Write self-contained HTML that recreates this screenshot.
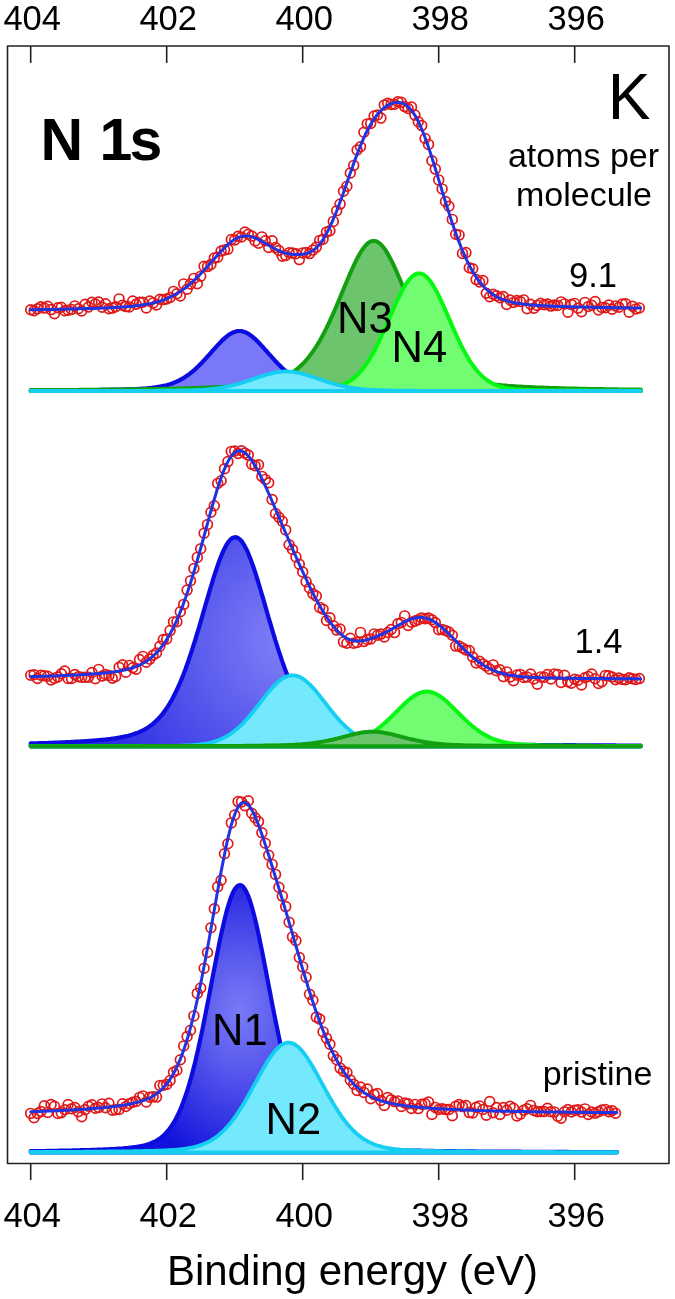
<!DOCTYPE html>
<html><head><meta charset="utf-8"><style>
html,body{margin:0;padding:0;background:#fff;}
svg{display:block;filter:blur(0.45px);}
text{font-family:"Liberation Sans",Arial,sans-serif;fill:#000;}
</style></head><body>
<svg width="675" height="1299" viewBox="0 0 675 1299">
<defs>
<radialGradient id="g1b" gradientUnits="userSpaceOnUse" cx="240" cy="1012" r="160" gradientTransform="translate(240 1012) scale(0.72 1) translate(-240 -1012)">
<stop offset="0" stop-color="#7a7af6"/><stop offset="0.35" stop-color="#5a5aee"/><stop offset="1" stop-color="#1212dc"/></radialGradient>
<radialGradient id="g1m" gradientUnits="userSpaceOnUse" cx="290" cy="640" r="210">
<stop offset="0" stop-color="#8282f8"/><stop offset="1" stop-color="#2c2ce2"/></radialGradient>
</defs>
<rect x="0" y="0" width="675" height="1299" fill="#fff"/>
<path d="M30.7 390.5 L32.1 390.5 L33.4 390.5 L34.8 390.5 L36.1 390.5 L37.5 390.5 L38.9 390.5 L40.2 390.5 L41.6 390.5 L42.9 390.4 L44.3 390.4 L45.6 390.4 L47.0 390.4 L48.4 390.4 L49.7 390.4 L51.1 390.4 L52.4 390.4 L53.8 390.4 L55.2 390.4 L56.5 390.4 L57.9 390.4 L59.2 390.3 L60.6 390.3 L61.9 390.3 L63.3 390.3 L64.7 390.3 L66.0 390.3 L67.4 390.3 L68.7 390.3 L70.1 390.3 L71.5 390.2 L72.8 390.2 L74.2 390.2 L75.5 390.2 L76.9 390.2 L78.2 390.2 L79.6 390.2 L81.0 390.2 L82.3 390.1 L83.7 390.1 L85.0 390.1 L86.4 390.1 L87.8 390.1 L89.1 390.1 L90.5 390.1 L91.8 390.0 L93.2 390.0 L94.5 390.0 L95.9 390.0 L97.3 390.0 L98.6 389.9 L100.0 389.9 L101.3 389.9 L102.7 389.9 L104.1 389.9 L105.4 389.8 L106.8 389.8 L108.1 389.8 L109.5 389.8 L110.9 389.7 L112.2 389.7 L113.6 389.7 L114.9 389.7 L116.3 389.6 L117.6 389.6 L119.0 389.6 L120.4 389.5 L121.7 389.5 L123.1 389.5 L124.4 389.4 L125.8 389.4 L127.2 389.4 L128.5 389.3 L129.9 389.3 L131.2 389.2 L132.6 389.2 L133.9 389.1 L135.3 389.0 L136.7 389.0 L138.0 388.9 L139.4 388.8 L140.7 388.8 L142.1 388.7 L143.5 388.6 L144.8 388.5 L146.2 388.4 L147.5 388.3 L148.9 388.1 L150.2 388.0 L151.6 387.9 L153.0 387.7 L154.3 387.5 L155.7 387.3 L157.0 387.1 L158.4 386.9 L159.8 386.7 L161.1 386.4 L162.5 386.1 L163.8 385.8 L165.2 385.5 L166.5 385.2 L167.9 384.8 L169.3 384.4 L170.6 383.9 L172.0 383.5 L173.3 383.0 L174.7 382.4 L176.1 381.8 L177.4 381.2 L178.8 380.6 L180.1 379.9 L181.5 379.1 L182.9 378.4 L184.2 377.5 L185.6 376.7 L186.9 375.7 L188.3 374.8 L189.6 373.8 L191.0 372.7 L192.4 371.6 L193.7 370.5 L195.1 369.3 L196.4 368.0 L197.8 366.7 L199.2 365.4 L200.5 364.1 L201.9 362.7 L203.2 361.2 L204.6 359.8 L205.9 358.3 L207.3 356.8 L208.7 355.3 L210.0 353.7 L211.4 352.2 L212.7 350.7 L214.1 349.1 L215.5 347.6 L216.8 346.1 L218.2 344.6 L219.5 343.2 L220.9 341.8 L222.2 340.4 L223.6 339.1 L225.0 337.9 L226.3 336.8 L227.7 335.7 L229.0 334.7 L230.4 333.8 L231.8 333.1 L233.1 332.4 L234.5 331.9 L235.8 331.5 L237.2 331.2 L238.5 331.0 L239.9 331.0 L241.3 331.1 L242.6 331.4 L244.0 331.8 L245.3 332.3 L246.7 332.9 L248.1 333.6 L249.4 334.5 L250.8 335.4 L252.1 336.5 L253.5 337.6 L254.9 338.8 L256.2 340.1 L257.6 341.5 L258.9 342.8 L260.3 344.3 L261.6 345.8 L263.0 347.2 L264.4 348.8 L265.7 350.3 L267.1 351.8 L268.4 353.4 L269.8 354.9 L271.2 356.4 L272.5 357.9 L273.9 359.4 L275.2 360.9 L276.6 362.3 L277.9 363.7 L279.3 365.1 L280.7 366.4 L282.0 367.7 L283.4 369.0 L284.7 370.2 L286.1 371.3 L287.5 372.4 L288.8 373.5 L290.2 374.5 L291.5 375.5 L292.9 376.4 L294.2 377.3 L295.6 378.2 L297.0 379.0 L298.3 379.7 L299.7 380.4 L301.0 381.1 L302.4 381.7 L303.8 382.3 L305.1 382.8 L306.5 383.3 L307.8 383.8 L309.2 384.3 L310.5 384.7 L311.9 385.1 L313.3 385.4 L314.6 385.8 L316.0 386.1 L317.3 386.3 L318.7 386.6 L320.1 386.9 L321.4 387.1 L322.8 387.3 L324.1 387.5 L325.5 387.7 L326.8 387.8 L328.2 388.0 L329.6 388.1 L330.9 388.2 L332.3 388.3 L333.6 388.5 L335.0 388.6 L336.4 388.7 L337.7 388.7 L339.1 388.8 L340.4 388.9 L341.8 389.0 L343.2 389.0 L344.5 389.1 L345.9 389.1 L347.2 389.2 L348.6 389.3 L349.9 389.3 L351.3 389.3 L352.7 389.4 L354.0 389.4 L355.4 389.5 L356.7 389.5 L358.1 389.5 L359.5 389.6 L360.8 389.6 L362.2 389.6 L363.5 389.7 L364.9 389.7 L366.2 389.7 L367.6 389.7 L369.0 389.8 L370.3 389.8 L371.7 389.8 L373.0 389.8 L374.4 389.9 L375.8 389.9 L377.1 389.9 L378.5 389.9 L379.8 389.9 L381.2 390.0 L382.5 390.0 L383.9 390.0 L385.3 390.0 L386.6 390.0 L388.0 390.1 L389.3 390.1 L390.7 390.1 L392.1 390.1 L393.4 390.1 L394.8 390.1 L396.1 390.1 L397.5 390.2 L398.8 390.2 L400.2 390.2 L401.6 390.2 L402.9 390.2 L404.3 390.2 L405.6 390.2 L407.0 390.2 L408.4 390.3 L409.7 390.3 L411.1 390.3 L412.4 390.3 L413.8 390.3 L415.2 390.3 L416.5 390.3 L417.9 390.3 L419.2 390.3 L420.6 390.4 L421.9 390.4 L423.3 390.4 L424.7 390.4 L426.0 390.4 L427.4 390.4 L428.7 390.4 L430.1 390.4 L431.5 390.4 L432.8 390.4 L434.2 390.4 L435.5 390.4 L436.9 390.4 L438.2 390.5 L439.6 390.5 L441.0 390.5 L442.3 390.5 L443.7 390.5 L445.0 390.5 L446.4 390.5 L447.8 390.5 L449.1 390.5 L450.5 390.5 L451.8 390.5 L453.2 390.5 L454.5 390.5 L455.9 390.5 L457.3 390.5 L458.6 390.6 L460.0 390.6 L461.3 390.6 L462.7 390.6 L464.1 390.6 L465.4 390.6 L466.8 390.6 L468.1 390.6 L469.5 390.6 L470.8 390.6 L472.2 390.6 L473.6 390.6 L474.9 390.6 L476.3 390.6 L477.6 390.6 L479.0 390.6 L480.4 390.6 L481.7 390.6 L483.1 390.6 L484.4 390.6 L485.8 390.6 L487.2 390.6 L488.5 390.7 L489.9 390.7 L491.2 390.7 L492.6 390.7 L493.9 390.7 L495.3 390.7 L496.7 390.7 L498.0 390.7 L499.4 390.7 L500.7 390.7 L502.1 390.7 L503.5 390.7 L504.8 390.7 L506.2 390.7 L507.5 390.7 L508.9 390.7 L510.2 390.7 L511.6 390.7 L513.0 390.7 L514.3 390.7 L515.7 390.7 L517.0 390.7 L518.4 390.7 L519.8 390.7 L521.1 390.7 L522.5 390.7 L523.8 390.7 L525.2 390.7 L526.5 390.7 L527.9 390.7 L529.3 390.7 L530.6 390.7 L532.0 390.7 L533.3 390.7 L534.7 390.7 L536.1 390.8 L537.4 390.8 L538.8 390.8 L540.1 390.8 L541.5 390.8 L542.8 390.8 L544.2 390.8 L545.6 390.8 L546.9 390.8 L548.3 390.8 L549.6 390.8 L551.0 390.8 L552.4 390.8 L553.7 390.8 L555.1 390.8 L556.4 390.8 L557.8 390.8 L559.2 390.8 L560.5 390.8 L561.9 390.8 L563.2 390.8 L564.6 390.8 L565.9 390.8 L567.3 390.8 L568.7 390.8 L570.0 390.8 L571.4 390.8 L572.7 390.8 L574.1 390.8 L575.5 390.8 L576.8 390.8 L578.2 390.8 L579.5 390.8 L580.9 390.8 L582.2 390.8 L583.6 390.8 L585.0 390.8 L586.3 390.8 L587.7 390.8 L589.0 390.8 L590.4 390.8 L591.8 390.8 L593.1 390.8 L594.5 390.8 L595.8 390.8 L597.2 390.8 L598.5 390.8 L599.9 390.8 L601.3 390.8 L602.6 390.8 L604.0 390.8 L605.3 390.8 L606.7 390.8 L608.1 390.8 L609.4 390.8 L610.8 390.8 L612.1 390.8 L613.5 390.8 L614.8 390.8 L616.2 390.8 L617.6 390.8 L618.9 390.8 L620.3 390.8 L621.6 390.8 L623.0 390.9 L624.4 390.9 L625.7 390.9 L627.1 390.9 L628.4 390.9 L629.8 390.9 L631.2 390.9 L632.5 390.9 L633.9 390.9 L635.2 390.9 L636.6 390.9 L637.9 390.9 L639.3 390.9 L640.7 390.9 L640.7 391.0 L30.7 391.0 Z" fill="#7878f8" stroke="#0c0ce0" stroke-width="4.2" stroke-linejoin="round"/>
<path d="M30.7 390.1 L32.1 390.1 L33.4 390.1 L34.8 390.1 L36.1 390.1 L37.5 390.1 L38.9 390.1 L40.2 390.1 L41.6 390.1 L42.9 390.1 L44.3 390.1 L45.6 390.1 L47.0 390.1 L48.4 390.1 L49.7 390.0 L51.1 390.0 L52.4 390.0 L53.8 390.0 L55.2 390.0 L56.5 390.0 L57.9 390.0 L59.2 390.0 L60.6 390.0 L61.9 390.0 L63.3 390.0 L64.7 390.0 L66.0 389.9 L67.4 389.9 L68.7 389.9 L70.1 389.9 L71.5 389.9 L72.8 389.9 L74.2 389.9 L75.5 389.9 L76.9 389.9 L78.2 389.9 L79.6 389.8 L81.0 389.8 L82.3 389.8 L83.7 389.8 L85.0 389.8 L86.4 389.8 L87.8 389.8 L89.1 389.8 L90.5 389.8 L91.8 389.7 L93.2 389.7 L94.5 389.7 L95.9 389.7 L97.3 389.7 L98.6 389.7 L100.0 389.7 L101.3 389.7 L102.7 389.6 L104.1 389.6 L105.4 389.6 L106.8 389.6 L108.1 389.6 L109.5 389.6 L110.9 389.6 L112.2 389.6 L113.6 389.5 L114.9 389.5 L116.3 389.5 L117.6 389.5 L119.0 389.5 L120.4 389.5 L121.7 389.4 L123.1 389.4 L124.4 389.4 L125.8 389.4 L127.2 389.4 L128.5 389.4 L129.9 389.3 L131.2 389.3 L132.6 389.3 L133.9 389.3 L135.3 389.3 L136.7 389.2 L138.0 389.2 L139.4 389.2 L140.7 389.2 L142.1 389.2 L143.5 389.1 L144.8 389.1 L146.2 389.1 L147.5 389.1 L148.9 389.1 L150.2 389.0 L151.6 389.0 L153.0 389.0 L154.3 389.0 L155.7 388.9 L157.0 388.9 L158.4 388.9 L159.8 388.9 L161.1 388.8 L162.5 388.8 L163.8 388.8 L165.2 388.8 L166.5 388.7 L167.9 388.7 L169.3 388.7 L170.6 388.6 L172.0 388.6 L173.3 388.6 L174.7 388.5 L176.1 388.5 L177.4 388.5 L178.8 388.4 L180.1 388.4 L181.5 388.4 L182.9 388.3 L184.2 388.3 L185.6 388.3 L186.9 388.2 L188.3 388.2 L189.6 388.1 L191.0 388.1 L192.4 388.1 L193.7 388.0 L195.1 388.0 L196.4 387.9 L197.8 387.9 L199.2 387.8 L200.5 387.8 L201.9 387.7 L203.2 387.7 L204.6 387.7 L205.9 387.6 L207.3 387.5 L208.7 387.5 L210.0 387.4 L211.4 387.4 L212.7 387.3 L214.1 387.3 L215.5 387.2 L216.8 387.1 L218.2 387.1 L219.5 387.0 L220.9 386.9 L222.2 386.9 L223.6 386.8 L225.0 386.7 L226.3 386.7 L227.7 386.6 L229.0 386.5 L230.4 386.4 L231.8 386.3 L233.1 386.2 L234.5 386.2 L235.8 386.1 L237.2 386.0 L238.5 385.9 L239.9 385.8 L241.3 385.6 L242.6 385.5 L244.0 385.4 L245.3 385.3 L246.7 385.2 L248.1 385.0 L249.4 384.9 L250.8 384.8 L252.1 384.6 L253.5 384.4 L254.9 384.3 L256.2 384.1 L257.6 383.9 L258.9 383.7 L260.3 383.5 L261.6 383.3 L263.0 383.1 L264.4 382.8 L265.7 382.6 L267.1 382.3 L268.4 382.0 L269.8 381.7 L271.2 381.4 L272.5 381.0 L273.9 380.6 L275.2 380.2 L276.6 379.8 L277.9 379.4 L279.3 378.9 L280.7 378.4 L282.0 377.8 L283.4 377.3 L284.7 376.6 L286.1 376.0 L287.5 375.3 L288.8 374.6 L290.2 373.8 L291.5 372.9 L292.9 372.0 L294.2 371.1 L295.6 370.1 L297.0 369.1 L298.3 367.9 L299.7 366.8 L301.0 365.5 L302.4 364.2 L303.8 362.8 L305.1 361.4 L306.5 359.8 L307.8 358.2 L309.2 356.5 L310.5 354.8 L311.9 352.9 L313.3 351.0 L314.6 349.0 L316.0 346.9 L317.3 344.8 L318.7 342.5 L320.1 340.2 L321.4 337.7 L322.8 335.2 L324.1 332.7 L325.5 330.0 L326.8 327.3 L328.2 324.5 L329.6 321.6 L330.9 318.6 L332.3 315.6 L333.6 312.6 L335.0 309.5 L336.4 306.3 L337.7 303.1 L339.1 299.9 L340.4 296.6 L341.8 293.4 L343.2 290.1 L344.5 286.8 L345.9 283.5 L347.2 280.3 L348.6 277.1 L349.9 273.9 L351.3 270.8 L352.7 267.8 L354.0 264.9 L355.4 262.0 L356.7 259.3 L358.1 256.7 L359.5 254.3 L360.8 252.0 L362.2 249.9 L363.5 248.0 L364.9 246.3 L366.2 244.8 L367.6 243.5 L369.0 242.5 L370.3 241.7 L371.7 241.2 L373.0 240.9 L374.4 240.9 L375.8 241.2 L377.1 241.7 L378.5 242.5 L379.8 243.5 L381.2 244.7 L382.5 246.2 L383.9 247.9 L385.3 249.8 L386.6 251.9 L388.0 254.1 L389.3 256.6 L390.7 259.2 L392.1 261.9 L393.4 264.7 L394.8 267.6 L396.1 270.7 L397.5 273.7 L398.8 276.9 L400.2 280.1 L401.6 283.3 L402.9 286.6 L404.3 289.9 L405.6 293.2 L407.0 296.4 L408.4 299.7 L409.7 302.9 L411.1 306.1 L412.4 309.3 L413.8 312.4 L415.2 315.4 L416.5 318.5 L417.9 321.4 L419.2 324.3 L420.6 327.1 L421.9 329.8 L423.3 332.5 L424.7 335.1 L426.0 337.6 L427.4 340.0 L428.7 342.4 L430.1 344.6 L431.5 346.8 L432.8 348.9 L434.2 350.9 L435.5 352.8 L436.9 354.7 L438.2 356.4 L439.6 358.1 L441.0 359.7 L442.3 361.3 L443.7 362.7 L445.0 364.1 L446.4 365.4 L447.8 366.7 L449.1 367.9 L450.5 369.0 L451.8 370.0 L453.2 371.0 L454.5 372.0 L455.9 372.9 L457.3 373.7 L458.6 374.5 L460.0 375.2 L461.3 375.9 L462.7 376.6 L464.1 377.2 L465.4 377.8 L466.8 378.3 L468.1 378.9 L469.5 379.3 L470.8 379.8 L472.2 380.2 L473.6 380.6 L474.9 381.0 L476.3 381.3 L477.6 381.7 L479.0 382.0 L480.4 382.3 L481.7 382.5 L483.1 382.8 L484.4 383.1 L485.8 383.3 L487.2 383.5 L488.5 383.7 L489.9 383.9 L491.2 384.1 L492.6 384.3 L493.9 384.4 L495.3 384.6 L496.7 384.7 L498.0 384.9 L499.4 385.0 L500.7 385.2 L502.1 385.3 L503.5 385.4 L504.8 385.5 L506.2 385.6 L507.5 385.8 L508.9 385.9 L510.2 386.0 L511.6 386.1 L513.0 386.1 L514.3 386.2 L515.7 386.3 L517.0 386.4 L518.4 386.5 L519.8 386.6 L521.1 386.6 L522.5 386.7 L523.8 386.8 L525.2 386.9 L526.5 386.9 L527.9 387.0 L529.3 387.1 L530.6 387.1 L532.0 387.2 L533.3 387.3 L534.7 387.3 L536.1 387.4 L537.4 387.4 L538.8 387.5 L540.1 387.5 L541.5 387.6 L542.8 387.6 L544.2 387.7 L545.6 387.7 L546.9 387.8 L548.3 387.8 L549.6 387.9 L551.0 387.9 L552.4 388.0 L553.7 388.0 L555.1 388.1 L556.4 388.1 L557.8 388.1 L559.2 388.2 L560.5 388.2 L561.9 388.3 L563.2 388.3 L564.6 388.3 L565.9 388.4 L567.3 388.4 L568.7 388.4 L570.0 388.5 L571.4 388.5 L572.7 388.5 L574.1 388.6 L575.5 388.6 L576.8 388.6 L578.2 388.7 L579.5 388.7 L580.9 388.7 L582.2 388.8 L583.6 388.8 L585.0 388.8 L586.3 388.8 L587.7 388.9 L589.0 388.9 L590.4 388.9 L591.8 388.9 L593.1 389.0 L594.5 389.0 L595.8 389.0 L597.2 389.0 L598.5 389.1 L599.9 389.1 L601.3 389.1 L602.6 389.1 L604.0 389.1 L605.3 389.2 L606.7 389.2 L608.1 389.2 L609.4 389.2 L610.8 389.2 L612.1 389.3 L613.5 389.3 L614.8 389.3 L616.2 389.3 L617.6 389.3 L618.9 389.4 L620.3 389.4 L621.6 389.4 L623.0 389.4 L624.4 389.4 L625.7 389.4 L627.1 389.5 L628.4 389.5 L629.8 389.5 L631.2 389.5 L632.5 389.5 L633.9 389.5 L635.2 389.5 L636.6 389.6 L637.9 389.6 L639.3 389.6 L640.7 389.6 L640.7 391.0 L30.7 391.0 Z" fill="#6cc46c" stroke="#12a012" stroke-width="4.0" stroke-linejoin="round"/>
<path d="M30.7 390.9 L32.1 390.9 L33.4 390.9 L34.8 390.9 L36.1 390.9 L37.5 390.9 L38.9 390.9 L40.2 390.9 L41.6 390.9 L42.9 390.9 L44.3 390.9 L45.6 390.9 L47.0 390.9 L48.4 390.9 L49.7 390.9 L51.1 390.9 L52.4 390.9 L53.8 390.9 L55.2 390.9 L56.5 390.9 L57.9 390.9 L59.2 390.9 L60.6 390.9 L61.9 390.9 L63.3 390.9 L64.7 390.9 L66.0 390.9 L67.4 390.9 L68.7 390.9 L70.1 390.9 L71.5 390.9 L72.8 390.9 L74.2 390.9 L75.5 390.9 L76.9 390.9 L78.2 390.9 L79.6 390.9 L81.0 390.9 L82.3 390.9 L83.7 390.9 L85.0 390.9 L86.4 390.9 L87.8 390.9 L89.1 390.9 L90.5 390.9 L91.8 390.9 L93.2 390.9 L94.5 390.9 L95.9 390.9 L97.3 390.9 L98.6 390.9 L100.0 390.9 L101.3 390.9 L102.7 390.9 L104.1 390.9 L105.4 390.9 L106.8 390.9 L108.1 390.9 L109.5 390.9 L110.9 390.9 L112.2 390.9 L113.6 390.9 L114.9 390.9 L116.3 390.9 L117.6 390.9 L119.0 390.9 L120.4 390.9 L121.7 390.9 L123.1 390.9 L124.4 390.9 L125.8 390.9 L127.2 390.9 L128.5 390.9 L129.9 390.9 L131.2 390.9 L132.6 390.9 L133.9 390.9 L135.3 390.9 L136.7 390.9 L138.0 390.9 L139.4 390.9 L140.7 390.9 L142.1 390.9 L143.5 390.9 L144.8 390.9 L146.2 390.9 L147.5 390.9 L148.9 390.9 L150.2 390.9 L151.6 390.9 L153.0 390.9 L154.3 390.9 L155.7 390.9 L157.0 390.9 L158.4 390.9 L159.8 390.8 L161.1 390.8 L162.5 390.8 L163.8 390.8 L165.2 390.8 L166.5 390.8 L167.9 390.8 L169.3 390.8 L170.6 390.8 L172.0 390.8 L173.3 390.8 L174.7 390.8 L176.1 390.8 L177.4 390.8 L178.8 390.8 L180.1 390.8 L181.5 390.8 L182.9 390.8 L184.2 390.8 L185.6 390.8 L186.9 390.8 L188.3 390.8 L189.6 390.8 L191.0 390.8 L192.4 390.8 L193.7 390.8 L195.1 390.8 L196.4 390.8 L197.8 390.8 L199.2 390.8 L200.5 390.8 L201.9 390.8 L203.2 390.8 L204.6 390.8 L205.9 390.8 L207.3 390.8 L208.7 390.8 L210.0 390.8 L211.4 390.8 L212.7 390.8 L214.1 390.8 L215.5 390.8 L216.8 390.8 L218.2 390.8 L219.5 390.7 L220.9 390.7 L222.2 390.7 L223.6 390.7 L225.0 390.7 L226.3 390.7 L227.7 390.7 L229.0 390.7 L230.4 390.7 L231.8 390.7 L233.1 390.7 L234.5 390.7 L235.8 390.7 L237.2 390.7 L238.5 390.7 L239.9 390.7 L241.3 390.7 L242.6 390.7 L244.0 390.7 L245.3 390.7 L246.7 390.7 L248.1 390.7 L249.4 390.7 L250.8 390.7 L252.1 390.6 L253.5 390.6 L254.9 390.6 L256.2 390.6 L257.6 390.6 L258.9 390.6 L260.3 390.6 L261.6 390.6 L263.0 390.6 L264.4 390.6 L265.7 390.6 L267.1 390.6 L268.4 390.6 L269.8 390.6 L271.2 390.6 L272.5 390.5 L273.9 390.5 L275.2 390.5 L276.6 390.5 L277.9 390.5 L279.3 390.5 L280.7 390.5 L282.0 390.5 L283.4 390.5 L284.7 390.5 L286.1 390.4 L287.5 390.4 L288.8 390.4 L290.2 390.4 L291.5 390.4 L292.9 390.4 L294.2 390.4 L295.6 390.3 L297.0 390.3 L298.3 390.3 L299.7 390.3 L301.0 390.3 L302.4 390.2 L303.8 390.2 L305.1 390.2 L306.5 390.1 L307.8 390.1 L309.2 390.1 L310.5 390.0 L311.9 390.0 L313.3 389.9 L314.6 389.8 L316.0 389.8 L317.3 389.7 L318.7 389.6 L320.1 389.5 L321.4 389.4 L322.8 389.3 L324.1 389.1 L325.5 389.0 L326.8 388.8 L328.2 388.6 L329.6 388.4 L330.9 388.2 L332.3 387.9 L333.6 387.6 L335.0 387.3 L336.4 387.0 L337.7 386.6 L339.1 386.2 L340.4 385.7 L341.8 385.2 L343.2 384.6 L344.5 384.0 L345.9 383.3 L347.2 382.6 L348.6 381.8 L349.9 380.9 L351.3 380.0 L352.7 379.0 L354.0 377.9 L355.4 376.7 L356.7 375.5 L358.1 374.1 L359.5 372.7 L360.8 371.2 L362.2 369.6 L363.5 367.8 L364.9 366.0 L366.2 364.1 L367.6 362.1 L369.0 359.9 L370.3 357.7 L371.7 355.4 L373.0 353.0 L374.4 350.5 L375.8 347.9 L377.1 345.2 L378.5 342.4 L379.8 339.6 L381.2 336.6 L382.5 333.7 L383.9 330.6 L385.3 327.6 L386.6 324.5 L388.0 321.4 L389.3 318.2 L390.7 315.1 L392.1 312.0 L393.4 308.9 L394.8 305.8 L396.1 302.8 L397.5 299.9 L398.8 297.1 L400.2 294.3 L401.6 291.7 L402.9 289.2 L404.3 286.8 L405.6 284.6 L407.0 282.5 L408.4 280.7 L409.7 279.0 L411.1 277.5 L412.4 276.3 L413.8 275.2 L415.2 274.4 L416.5 273.8 L417.9 273.5 L419.2 273.4 L420.6 273.5 L421.9 273.9 L423.3 274.5 L424.7 275.4 L426.0 276.5 L427.4 277.8 L428.7 279.3 L430.1 281.0 L431.5 282.9 L432.8 284.9 L434.2 287.2 L435.5 289.6 L436.9 292.1 L438.2 294.7 L439.6 297.5 L441.0 300.4 L442.3 303.3 L443.7 306.3 L445.0 309.4 L446.4 312.5 L447.8 315.6 L449.1 318.7 L450.5 321.9 L451.8 325.0 L453.2 328.1 L454.5 331.1 L455.9 334.2 L457.3 337.1 L458.6 340.0 L460.0 342.9 L461.3 345.6 L462.7 348.3 L464.1 350.9 L465.4 353.4 L466.8 355.8 L468.1 358.1 L469.5 360.3 L470.8 362.4 L472.2 364.4 L473.6 366.3 L474.9 368.1 L476.3 369.8 L477.6 371.4 L479.0 372.9 L480.4 374.4 L481.7 375.7 L483.1 376.9 L484.4 378.1 L485.8 379.2 L487.2 380.2 L488.5 381.1 L489.9 381.9 L491.2 382.7 L492.6 383.4 L493.9 384.1 L495.3 384.7 L496.7 385.3 L498.0 385.8 L499.4 386.2 L500.7 386.7 L502.1 387.0 L503.5 387.4 L504.8 387.7 L506.2 388.0 L507.5 388.2 L508.9 388.5 L510.2 388.7 L511.6 388.9 L513.0 389.0 L514.3 389.2 L515.7 389.3 L517.0 389.4 L518.4 389.5 L519.8 389.6 L521.1 389.7 L522.5 389.8 L523.8 389.9 L525.2 389.9 L526.5 390.0 L527.9 390.0 L529.3 390.1 L530.6 390.1 L532.0 390.1 L533.3 390.2 L534.7 390.2 L536.1 390.2 L537.4 390.3 L538.8 390.3 L540.1 390.3 L541.5 390.3 L542.8 390.3 L544.2 390.4 L545.6 390.4 L546.9 390.4 L548.3 390.4 L549.6 390.4 L551.0 390.4 L552.4 390.5 L553.7 390.5 L555.1 390.5 L556.4 390.5 L557.8 390.5 L559.2 390.5 L560.5 390.5 L561.9 390.5 L563.2 390.5 L564.6 390.5 L565.9 390.5 L567.3 390.6 L568.7 390.6 L570.0 390.6 L571.4 390.6 L572.7 390.6 L574.1 390.6 L575.5 390.6 L576.8 390.6 L578.2 390.6 L579.5 390.6 L580.9 390.6 L582.2 390.6 L583.6 390.6 L585.0 390.6 L586.3 390.6 L587.7 390.7 L589.0 390.7 L590.4 390.7 L591.8 390.7 L593.1 390.7 L594.5 390.7 L595.8 390.7 L597.2 390.7 L598.5 390.7 L599.9 390.7 L601.3 390.7 L602.6 390.7 L604.0 390.7 L605.3 390.7 L606.7 390.7 L608.1 390.7 L609.4 390.7 L610.8 390.7 L612.1 390.7 L613.5 390.7 L614.8 390.7 L616.2 390.7 L617.6 390.7 L618.9 390.7 L620.3 390.8 L621.6 390.8 L623.0 390.8 L624.4 390.8 L625.7 390.8 L627.1 390.8 L628.4 390.8 L629.8 390.8 L631.2 390.8 L632.5 390.8 L633.9 390.8 L635.2 390.8 L636.6 390.8 L637.9 390.8 L639.3 390.8 L640.7 390.8 L640.7 391.0 L30.7 391.0 Z" fill="#72fc72" stroke="#06f812" stroke-width="4.0" stroke-linejoin="round"/>
<path d="M30.7 390.9 L32.1 390.9 L33.4 390.9 L34.8 390.9 L36.1 390.9 L37.5 390.9 L38.9 390.9 L40.2 390.9 L41.6 390.9 L42.9 390.9 L44.3 390.9 L45.6 390.9 L47.0 390.9 L48.4 390.9 L49.7 390.9 L51.1 390.9 L52.4 390.9 L53.8 390.9 L55.2 390.9 L56.5 390.9 L57.9 390.9 L59.2 390.9 L60.6 390.9 L61.9 390.9 L63.3 390.9 L64.7 390.9 L66.0 390.9 L67.4 390.9 L68.7 390.9 L70.1 390.9 L71.5 390.9 L72.8 390.9 L74.2 390.9 L75.5 390.9 L76.9 390.9 L78.2 390.9 L79.6 390.9 L81.0 390.9 L82.3 390.9 L83.7 390.9 L85.0 390.9 L86.4 390.9 L87.8 390.9 L89.1 390.9 L90.5 390.9 L91.8 390.9 L93.2 390.9 L94.5 390.9 L95.9 390.9 L97.3 390.9 L98.6 390.9 L100.0 390.9 L101.3 390.9 L102.7 390.9 L104.1 390.9 L105.4 390.9 L106.8 390.9 L108.1 390.9 L109.5 390.9 L110.9 390.9 L112.2 390.9 L113.6 390.9 L114.9 390.9 L116.3 390.9 L117.6 390.8 L119.0 390.8 L120.4 390.8 L121.7 390.8 L123.1 390.8 L124.4 390.8 L125.8 390.8 L127.2 390.8 L128.5 390.8 L129.9 390.8 L131.2 390.8 L132.6 390.8 L133.9 390.8 L135.3 390.8 L136.7 390.8 L138.0 390.8 L139.4 390.8 L140.7 390.8 L142.1 390.8 L143.5 390.8 L144.8 390.8 L146.2 390.8 L147.5 390.8 L148.9 390.8 L150.2 390.8 L151.6 390.8 L153.0 390.8 L154.3 390.8 L155.7 390.7 L157.0 390.7 L158.4 390.7 L159.8 390.7 L161.1 390.7 L162.5 390.7 L163.8 390.7 L165.2 390.7 L166.5 390.7 L167.9 390.7 L169.3 390.7 L170.6 390.7 L172.0 390.6 L173.3 390.6 L174.7 390.6 L176.1 390.6 L177.4 390.6 L178.8 390.6 L180.1 390.5 L181.5 390.5 L182.9 390.5 L184.2 390.5 L185.6 390.4 L186.9 390.4 L188.3 390.4 L189.6 390.3 L191.0 390.3 L192.4 390.2 L193.7 390.2 L195.1 390.1 L196.4 390.1 L197.8 390.0 L199.2 389.9 L200.5 389.9 L201.9 389.8 L203.2 389.7 L204.6 389.6 L205.9 389.5 L207.3 389.4 L208.7 389.3 L210.0 389.1 L211.4 389.0 L212.7 388.8 L214.1 388.7 L215.5 388.5 L216.8 388.3 L218.2 388.2 L219.5 387.9 L220.9 387.7 L222.2 387.5 L223.6 387.3 L225.0 387.0 L226.3 386.7 L227.7 386.5 L229.0 386.2 L230.4 385.9 L231.8 385.6 L233.1 385.2 L234.5 384.9 L235.8 384.5 L237.2 384.1 L238.5 383.8 L239.9 383.4 L241.3 383.0 L242.6 382.5 L244.0 382.1 L245.3 381.7 L246.7 381.2 L248.1 380.8 L249.4 380.3 L250.8 379.9 L252.1 379.4 L253.5 378.9 L254.9 378.5 L256.2 378.0 L257.6 377.5 L258.9 377.1 L260.3 376.6 L261.6 376.2 L263.0 375.7 L264.4 375.3 L265.7 374.9 L267.1 374.5 L268.4 374.1 L269.8 373.8 L271.2 373.4 L272.5 373.1 L273.9 372.8 L275.2 372.5 L276.6 372.3 L277.9 372.1 L279.3 371.9 L280.7 371.8 L282.0 371.6 L283.4 371.6 L284.7 371.5 L286.1 371.5 L287.5 371.5 L288.8 371.6 L290.2 371.7 L291.5 371.8 L292.9 371.9 L294.2 372.1 L295.6 372.3 L297.0 372.6 L298.3 372.8 L299.7 373.1 L301.0 373.5 L302.4 373.8 L303.8 374.2 L305.1 374.5 L306.5 374.9 L307.8 375.4 L309.2 375.8 L310.5 376.2 L311.9 376.7 L313.3 377.1 L314.6 377.6 L316.0 378.0 L317.3 378.5 L318.7 379.0 L320.1 379.4 L321.4 379.9 L322.8 380.4 L324.1 380.8 L325.5 381.3 L326.8 381.7 L328.2 382.2 L329.6 382.6 L330.9 383.0 L332.3 383.4 L333.6 383.8 L335.0 384.2 L336.4 384.5 L337.7 384.9 L339.1 385.2 L340.4 385.6 L341.8 385.9 L343.2 386.2 L344.5 386.5 L345.9 386.8 L347.2 387.0 L348.6 387.3 L349.9 387.5 L351.3 387.8 L352.7 388.0 L354.0 388.2 L355.4 388.4 L356.7 388.5 L358.1 388.7 L359.5 388.9 L360.8 389.0 L362.2 389.1 L363.5 389.3 L364.9 389.4 L366.2 389.5 L367.6 389.6 L369.0 389.7 L370.3 389.8 L371.7 389.9 L373.0 389.9 L374.4 390.0 L375.8 390.1 L377.1 390.1 L378.5 390.2 L379.8 390.2 L381.2 390.3 L382.5 390.3 L383.9 390.4 L385.3 390.4 L386.6 390.4 L388.0 390.5 L389.3 390.5 L390.7 390.5 L392.1 390.5 L393.4 390.6 L394.8 390.6 L396.1 390.6 L397.5 390.6 L398.8 390.6 L400.2 390.6 L401.6 390.7 L402.9 390.7 L404.3 390.7 L405.6 390.7 L407.0 390.7 L408.4 390.7 L409.7 390.7 L411.1 390.7 L412.4 390.7 L413.8 390.7 L415.2 390.7 L416.5 390.7 L417.9 390.8 L419.2 390.8 L420.6 390.8 L421.9 390.8 L423.3 390.8 L424.7 390.8 L426.0 390.8 L427.4 390.8 L428.7 390.8 L430.1 390.8 L431.5 390.8 L432.8 390.8 L434.2 390.8 L435.5 390.8 L436.9 390.8 L438.2 390.8 L439.6 390.8 L441.0 390.8 L442.3 390.8 L443.7 390.8 L445.0 390.8 L446.4 390.8 L447.8 390.8 L449.1 390.8 L450.5 390.8 L451.8 390.8 L453.2 390.8 L454.5 390.8 L455.9 390.9 L457.3 390.9 L458.6 390.9 L460.0 390.9 L461.3 390.9 L462.7 390.9 L464.1 390.9 L465.4 390.9 L466.8 390.9 L468.1 390.9 L469.5 390.9 L470.8 390.9 L472.2 390.9 L473.6 390.9 L474.9 390.9 L476.3 390.9 L477.6 390.9 L479.0 390.9 L480.4 390.9 L481.7 390.9 L483.1 390.9 L484.4 390.9 L485.8 390.9 L487.2 390.9 L488.5 390.9 L489.9 390.9 L491.2 390.9 L492.6 390.9 L493.9 390.9 L495.3 390.9 L496.7 390.9 L498.0 390.9 L499.4 390.9 L500.7 390.9 L502.1 390.9 L503.5 390.9 L504.8 390.9 L506.2 390.9 L507.5 390.9 L508.9 390.9 L510.2 390.9 L511.6 390.9 L513.0 390.9 L514.3 390.9 L515.7 390.9 L517.0 390.9 L518.4 390.9 L519.8 390.9 L521.1 390.9 L522.5 390.9 L523.8 390.9 L525.2 390.9 L526.5 390.9 L527.9 390.9 L529.3 390.9 L530.6 390.9 L532.0 390.9 L533.3 390.9 L534.7 390.9 L536.1 390.9 L537.4 390.9 L538.8 390.9 L540.1 390.9 L541.5 390.9 L542.8 390.9 L544.2 390.9 L545.6 390.9 L546.9 390.9 L548.3 390.9 L549.6 390.9 L551.0 390.9 L552.4 390.9 L553.7 390.9 L555.1 390.9 L556.4 390.9 L557.8 390.9 L559.2 390.9 L560.5 390.9 L561.9 390.9 L563.2 390.9 L564.6 390.9 L565.9 390.9 L567.3 390.9 L568.7 390.9 L570.0 390.9 L571.4 390.9 L572.7 390.9 L574.1 390.9 L575.5 390.9 L576.8 390.9 L578.2 390.9 L579.5 390.9 L580.9 390.9 L582.2 390.9 L583.6 390.9 L585.0 391.0 L586.3 391.0 L587.7 391.0 L589.0 391.0 L590.4 391.0 L591.8 391.0 L593.1 391.0 L594.5 391.0 L595.8 391.0 L597.2 391.0 L598.5 391.0 L599.9 391.0 L601.3 391.0 L602.6 391.0 L604.0 391.0 L605.3 391.0 L606.7 391.0 L608.1 391.0 L609.4 391.0 L610.8 391.0 L612.1 391.0 L613.5 391.0 L614.8 391.0 L616.2 391.0 L617.6 391.0 L618.9 391.0 L620.3 391.0 L621.6 391.0 L623.0 391.0 L624.4 391.0 L625.7 391.0 L627.1 391.0 L628.4 391.0 L629.8 391.0 L631.2 391.0 L632.5 391.0 L633.9 391.0 L635.2 391.0 L636.6 391.0 L637.9 391.0 L639.3 391.0 L640.7 391.0 L640.7 391.0 L30.7 391.0 Z" fill="#74e8fc" stroke="#14cff2" stroke-width="3.8" stroke-linejoin="round"/>
<g fill="none" stroke="#e01818" stroke-width="1.7"><circle cx="30.7" cy="309.8" r="4.9"/><circle cx="34.1" cy="310.7" r="4.9"/><circle cx="37.5" cy="308.8" r="4.9"/><circle cx="40.9" cy="306.7" r="4.9"/><circle cx="44.3" cy="308.1" r="4.9"/><circle cx="47.7" cy="306.2" r="4.9"/><circle cx="51.1" cy="309.6" r="4.9"/><circle cx="54.5" cy="313.8" r="4.9"/><circle cx="57.9" cy="307.7" r="4.9"/><circle cx="61.3" cy="307.2" r="4.9"/><circle cx="64.7" cy="310.8" r="4.9"/><circle cx="68.1" cy="310.3" r="4.9"/><circle cx="71.5" cy="309.4" r="4.9"/><circle cx="74.9" cy="305.9" r="4.9"/><circle cx="78.3" cy="308.7" r="4.9"/><circle cx="81.7" cy="311.0" r="4.9"/><circle cx="85.1" cy="304.2" r="4.9"/><circle cx="88.5" cy="307.0" r="4.9"/><circle cx="91.9" cy="302.2" r="4.9"/><circle cx="95.3" cy="304.1" r="4.9"/><circle cx="98.7" cy="302.1" r="4.9"/><circle cx="102.1" cy="307.3" r="4.9"/><circle cx="105.5" cy="303.8" r="4.9"/><circle cx="108.9" cy="308.7" r="4.9"/><circle cx="112.3" cy="308.1" r="4.9"/><circle cx="115.7" cy="306.8" r="4.9"/><circle cx="119.1" cy="298.9" r="4.9"/><circle cx="122.5" cy="305.2" r="4.9"/><circle cx="125.9" cy="306.6" r="4.9"/><circle cx="129.3" cy="306.9" r="4.9"/><circle cx="132.7" cy="301.1" r="4.9"/><circle cx="136.1" cy="304.2" r="4.9"/><circle cx="139.5" cy="302.2" r="4.9"/><circle cx="142.9" cy="302.3" r="4.9"/><circle cx="146.3" cy="307.9" r="4.9"/><circle cx="149.7" cy="301.1" r="4.9"/><circle cx="153.1" cy="302.9" r="4.9"/><circle cx="156.5" cy="305.0" r="4.9"/><circle cx="159.9" cy="299.2" r="4.9"/><circle cx="163.3" cy="299.6" r="4.9"/><circle cx="166.7" cy="299.0" r="4.9"/><circle cx="170.1" cy="297.4" r="4.9"/><circle cx="173.5" cy="291.4" r="4.9"/><circle cx="176.9" cy="293.8" r="4.9"/><circle cx="180.3" cy="295.9" r="4.9"/><circle cx="183.7" cy="283.9" r="4.9"/><circle cx="187.1" cy="289.3" r="4.9"/><circle cx="190.5" cy="284.0" r="4.9"/><circle cx="193.9" cy="278.4" r="4.9"/><circle cx="197.3" cy="283.8" r="4.9"/><circle cx="200.7" cy="276.3" r="4.9"/><circle cx="204.1" cy="266.2" r="4.9"/><circle cx="207.5" cy="266.6" r="4.9"/><circle cx="210.9" cy="264.5" r="4.9"/><circle cx="214.3" cy="258.1" r="4.9"/><circle cx="217.7" cy="257.2" r="4.9"/><circle cx="221.1" cy="251.0" r="4.9"/><circle cx="224.5" cy="249.9" r="4.9"/><circle cx="227.9" cy="249.3" r="4.9"/><circle cx="231.3" cy="239.6" r="4.9"/><circle cx="234.7" cy="240.1" r="4.9"/><circle cx="238.1" cy="236.2" r="4.9"/><circle cx="241.5" cy="237.0" r="4.9"/><circle cx="244.9" cy="232.1" r="4.9"/><circle cx="248.3" cy="234.2" r="4.9"/><circle cx="251.7" cy="236.1" r="4.9"/><circle cx="255.1" cy="240.9" r="4.9"/><circle cx="258.5" cy="243.2" r="4.9"/><circle cx="261.9" cy="236.9" r="4.9"/><circle cx="265.3" cy="240.7" r="4.9"/><circle cx="268.7" cy="247.5" r="4.9"/><circle cx="272.1" cy="240.7" r="4.9"/><circle cx="275.5" cy="247.6" r="4.9"/><circle cx="278.9" cy="250.5" r="4.9"/><circle cx="282.3" cy="256.3" r="4.9"/><circle cx="285.7" cy="255.4" r="4.9"/><circle cx="289.1" cy="252.8" r="4.9"/><circle cx="292.5" cy="253.1" r="4.9"/><circle cx="295.9" cy="253.7" r="4.9"/><circle cx="299.3" cy="259.6" r="4.9"/><circle cx="302.7" cy="252.9" r="4.9"/><circle cx="306.1" cy="252.6" r="4.9"/><circle cx="309.5" cy="253.6" r="4.9"/><circle cx="312.9" cy="250.1" r="4.9"/><circle cx="316.3" cy="247.1" r="4.9"/><circle cx="319.7" cy="240.4" r="4.9"/><circle cx="323.1" cy="239.3" r="4.9"/><circle cx="326.5" cy="232.1" r="4.9"/><circle cx="329.9" cy="230.7" r="4.9"/><circle cx="333.3" cy="221.4" r="4.9"/><circle cx="336.7" cy="210.8" r="4.9"/><circle cx="340.1" cy="204.1" r="4.9"/><circle cx="343.5" cy="191.3" r="4.9"/><circle cx="346.9" cy="186.2" r="4.9"/><circle cx="350.3" cy="173.0" r="4.9"/><circle cx="353.7" cy="165.4" r="4.9"/><circle cx="357.1" cy="150.0" r="4.9"/><circle cx="360.5" cy="146.8" r="4.9"/><circle cx="363.9" cy="132.2" r="4.9"/><circle cx="367.3" cy="123.9" r="4.9"/><circle cx="370.7" cy="123.4" r="4.9"/><circle cx="374.1" cy="116.0" r="4.9"/><circle cx="377.5" cy="115.0" r="4.9"/><circle cx="380.9" cy="118.1" r="4.9"/><circle cx="384.3" cy="105.0" r="4.9"/><circle cx="387.7" cy="103.3" r="4.9"/><circle cx="391.1" cy="104.4" r="4.9"/><circle cx="394.5" cy="104.3" r="4.9"/><circle cx="397.9" cy="101.8" r="4.9"/><circle cx="401.3" cy="102.2" r="4.9"/><circle cx="404.7" cy="106.6" r="4.9"/><circle cx="408.1" cy="108.5" r="4.9"/><circle cx="411.5" cy="107.0" r="4.9"/><circle cx="414.9" cy="115.1" r="4.9"/><circle cx="418.3" cy="121.7" r="4.9"/><circle cx="421.7" cy="125.6" r="4.9"/><circle cx="425.1" cy="138.5" r="4.9"/><circle cx="428.5" cy="144.4" r="4.9"/><circle cx="431.9" cy="160.8" r="4.9"/><circle cx="435.3" cy="169.1" r="4.9"/><circle cx="438.7" cy="179.9" r="4.9"/><circle cx="442.1" cy="188.9" r="4.9"/><circle cx="445.5" cy="201.5" r="4.9"/><circle cx="448.9" cy="206.2" r="4.9"/><circle cx="452.3" cy="219.4" r="4.9"/><circle cx="455.7" cy="234.2" r="4.9"/><circle cx="459.1" cy="235.1" r="4.9"/><circle cx="462.5" cy="253.4" r="4.9"/><circle cx="465.9" cy="252.6" r="4.9"/><circle cx="469.3" cy="267.8" r="4.9"/><circle cx="472.7" cy="268.7" r="4.9"/><circle cx="476.1" cy="279.5" r="4.9"/><circle cx="479.5" cy="282.0" r="4.9"/><circle cx="482.9" cy="280.6" r="4.9"/><circle cx="486.3" cy="293.3" r="4.9"/><circle cx="489.7" cy="296.8" r="4.9"/><circle cx="493.1" cy="294.3" r="4.9"/><circle cx="496.5" cy="295.7" r="4.9"/><circle cx="499.9" cy="297.8" r="4.9"/><circle cx="503.3" cy="296.5" r="4.9"/><circle cx="506.7" cy="304.5" r="4.9"/><circle cx="510.1" cy="300.0" r="4.9"/><circle cx="513.5" cy="302.4" r="4.9"/><circle cx="516.9" cy="300.6" r="4.9"/><circle cx="520.3" cy="301.6" r="4.9"/><circle cx="523.7" cy="299.9" r="4.9"/><circle cx="527.1" cy="308.7" r="4.9"/><circle cx="530.5" cy="304.3" r="4.9"/><circle cx="533.9" cy="308.3" r="4.9"/><circle cx="537.3" cy="305.4" r="4.9"/><circle cx="540.7" cy="303.3" r="4.9"/><circle cx="544.1" cy="304.7" r="4.9"/><circle cx="547.5" cy="304.1" r="4.9"/><circle cx="550.9" cy="306.1" r="4.9"/><circle cx="554.3" cy="305.0" r="4.9"/><circle cx="557.7" cy="305.4" r="4.9"/><circle cx="561.1" cy="301.9" r="4.9"/><circle cx="564.5" cy="303.9" r="4.9"/><circle cx="567.9" cy="312.2" r="4.9"/><circle cx="571.3" cy="304.6" r="4.9"/><circle cx="574.7" cy="303.4" r="4.9"/><circle cx="578.1" cy="308.1" r="4.9"/><circle cx="581.5" cy="311.7" r="4.9"/><circle cx="584.9" cy="302.4" r="4.9"/><circle cx="588.3" cy="306.5" r="4.9"/><circle cx="591.7" cy="305.2" r="4.9"/><circle cx="595.1" cy="301.6" r="4.9"/><circle cx="598.5" cy="309.9" r="4.9"/><circle cx="601.9" cy="307.4" r="4.9"/><circle cx="605.3" cy="307.8" r="4.9"/><circle cx="608.7" cy="305.1" r="4.9"/><circle cx="612.1" cy="309.2" r="4.9"/><circle cx="615.5" cy="305.9" r="4.9"/><circle cx="618.9" cy="307.3" r="4.9"/><circle cx="622.3" cy="304.1" r="4.9"/><circle cx="625.7" cy="303.8" r="4.9"/><circle cx="629.1" cy="312.3" r="4.9"/><circle cx="632.5" cy="306.2" r="4.9"/><circle cx="635.9" cy="308.9" r="4.9"/><circle cx="639.3" cy="307.9" r="4.9"/></g>
<path d="M30.7 309.8 L32.1 309.8 L33.4 309.7 L34.8 309.7 L36.1 309.7 L37.5 309.7 L38.9 309.7 L40.2 309.6 L41.6 309.6 L42.9 309.6 L44.3 309.6 L45.6 309.5 L47.0 309.5 L48.4 309.5 L49.7 309.5 L51.1 309.4 L52.4 309.4 L53.8 309.4 L55.2 309.4 L56.5 309.3 L57.9 309.3 L59.2 309.3 L60.6 309.3 L61.9 309.2 L63.3 309.2 L64.7 309.2 L66.0 309.1 L67.4 309.1 L68.7 309.1 L70.1 309.0 L71.5 309.0 L72.8 309.0 L74.2 308.9 L75.5 308.9 L76.9 308.9 L78.2 308.8 L79.6 308.8 L81.0 308.8 L82.3 308.7 L83.7 308.7 L85.0 308.7 L86.4 308.6 L87.8 308.6 L89.1 308.5 L90.5 308.5 L91.8 308.4 L93.2 308.4 L94.5 308.4 L95.9 308.3 L97.3 308.3 L98.6 308.2 L100.0 308.2 L101.3 308.1 L102.7 308.1 L104.1 308.0 L105.4 307.9 L106.8 307.9 L108.1 307.8 L109.5 307.8 L110.9 307.7 L112.2 307.6 L113.6 307.6 L114.9 307.5 L116.3 307.4 L117.6 307.3 L119.0 307.3 L120.4 307.2 L121.7 307.1 L123.1 307.0 L124.4 306.9 L125.8 306.8 L127.2 306.7 L128.5 306.6 L129.9 306.5 L131.2 306.3 L132.6 306.2 L133.9 306.1 L135.3 305.9 L136.7 305.8 L138.0 305.6 L139.4 305.4 L140.7 305.2 L142.1 305.0 L143.5 304.8 L144.8 304.6 L146.2 304.4 L147.5 304.1 L148.9 303.9 L150.2 303.6 L151.6 303.3 L153.0 303.0 L154.3 302.7 L155.7 302.3 L157.0 302.0 L158.4 301.6 L159.8 301.2 L161.1 300.7 L162.5 300.3 L163.8 299.8 L165.2 299.3 L166.5 298.7 L167.9 298.1 L169.3 297.5 L170.6 296.9 L172.0 296.2 L173.3 295.5 L174.7 294.8 L176.1 294.0 L177.4 293.2 L178.8 292.4 L180.1 291.5 L181.5 290.6 L182.9 289.6 L184.2 288.7 L185.6 287.6 L186.9 286.6 L188.3 285.5 L189.6 284.3 L191.0 283.1 L192.4 281.9 L193.7 280.7 L195.1 279.4 L196.4 278.1 L197.8 276.7 L199.2 275.4 L200.5 274.0 L201.9 272.5 L203.2 271.1 L204.6 269.6 L205.9 268.1 L207.3 266.6 L208.7 265.1 L210.0 263.6 L211.4 262.0 L212.7 260.5 L214.1 258.9 L215.5 257.4 L216.8 255.9 L218.2 254.4 L219.5 252.9 L220.9 251.4 L222.2 250.0 L223.6 248.6 L225.0 247.3 L226.3 246.0 L227.7 244.8 L229.0 243.6 L230.4 242.5 L231.8 241.4 L233.1 240.5 L234.5 239.6 L235.8 238.8 L237.2 238.1 L238.5 237.5 L239.9 237.0 L241.3 236.6 L242.6 236.3 L244.0 236.1 L245.3 236.0 L246.7 236.0 L248.1 236.1 L249.4 236.2 L250.8 236.5 L252.1 236.9 L253.5 237.3 L254.9 237.8 L256.2 238.4 L257.6 239.0 L258.9 239.7 L260.3 240.4 L261.6 241.1 L263.0 241.9 L264.4 242.7 L265.7 243.5 L267.1 244.3 L268.4 245.2 L269.8 246.0 L271.2 246.8 L272.5 247.5 L273.9 248.3 L275.2 249.0 L276.6 249.7 L277.9 250.3 L279.3 250.9 L280.7 251.5 L282.0 252.0 L283.4 252.5 L284.7 252.9 L286.1 253.2 L287.5 253.6 L288.8 253.8 L290.2 254.0 L291.5 254.2 L292.9 254.4 L294.2 254.5 L295.6 254.6 L297.0 254.6 L298.3 254.6 L299.7 254.6 L301.0 254.5 L302.4 254.3 L303.8 254.1 L305.1 253.9 L306.5 253.5 L307.8 253.1 L309.2 252.6 L310.5 251.9 L311.9 251.2 L313.3 250.3 L314.6 249.3 L316.0 248.1 L317.3 246.7 L318.7 245.2 L320.1 243.6 L321.4 241.8 L322.8 239.8 L324.1 237.7 L325.5 235.4 L326.8 232.9 L328.2 230.3 L329.6 227.5 L330.9 224.6 L332.3 221.6 L333.6 218.4 L335.0 215.1 L336.4 211.7 L337.7 208.2 L339.1 204.6 L340.4 201.0 L341.8 197.2 L343.2 193.4 L344.5 189.6 L345.9 185.7 L347.2 181.8 L348.6 177.9 L349.9 174.0 L351.3 170.2 L352.7 166.4 L354.0 162.6 L355.4 158.9 L356.7 155.3 L358.1 151.7 L359.5 148.3 L360.8 144.9 L362.2 141.7 L363.5 138.6 L364.9 135.6 L366.2 132.7 L367.6 130.0 L369.0 127.5 L370.3 125.0 L371.7 122.7 L373.0 120.6 L374.4 118.6 L375.8 116.7 L377.1 115.0 L378.5 113.3 L379.8 111.8 L381.2 110.5 L382.5 109.2 L383.9 108.0 L385.3 107.0 L386.6 106.0 L388.0 105.2 L389.3 104.5 L390.7 103.9 L392.1 103.3 L393.4 102.9 L394.8 102.6 L396.1 102.4 L397.5 102.4 L398.8 102.4 L400.2 102.6 L401.6 102.9 L402.9 103.4 L404.3 104.1 L405.6 104.9 L407.0 105.8 L408.4 107.0 L409.7 108.4 L411.1 109.9 L412.4 111.7 L413.8 113.6 L415.2 115.8 L416.5 118.1 L417.9 120.7 L419.2 123.5 L420.6 126.5 L421.9 129.6 L423.3 133.0 L424.7 136.5 L426.0 140.2 L427.4 144.0 L428.7 148.0 L430.1 152.0 L431.5 156.2 L432.8 160.5 L434.2 164.8 L435.5 169.2 L436.9 173.6 L438.2 178.1 L439.6 182.6 L441.0 187.1 L442.3 191.6 L443.7 196.0 L445.0 200.4 L446.4 204.8 L447.8 209.2 L449.1 213.4 L450.5 217.6 L451.8 221.7 L453.2 225.8 L454.5 229.7 L455.9 233.5 L457.3 237.3 L458.6 240.9 L460.0 244.4 L461.3 247.8 L462.7 251.1 L464.1 254.2 L465.4 257.3 L466.8 260.2 L468.1 263.0 L469.5 265.6 L470.8 268.2 L472.2 270.6 L473.6 272.9 L474.9 275.1 L476.3 277.2 L477.6 279.1 L479.0 281.0 L480.4 282.7 L481.7 284.3 L483.1 285.9 L484.4 287.3 L485.8 288.7 L487.2 289.9 L488.5 291.1 L489.9 292.2 L491.2 293.2 L492.6 294.2 L493.9 295.1 L495.3 295.9 L496.7 296.7 L498.0 297.4 L499.4 298.1 L500.7 298.7 L502.1 299.2 L503.5 299.7 L504.8 300.2 L506.2 300.7 L507.5 301.1 L508.9 301.5 L510.2 301.8 L511.6 302.1 L513.0 302.4 L514.3 302.7 L515.7 303.0 L517.0 303.2 L518.4 303.4 L519.8 303.6 L521.1 303.8 L522.5 304.0 L523.8 304.2 L525.2 304.3 L526.5 304.5 L527.9 304.6 L529.3 304.7 L530.6 304.9 L532.0 305.0 L533.3 305.1 L534.7 305.2 L536.1 305.3 L537.4 305.4 L538.8 305.5 L540.1 305.5 L541.5 305.6 L542.8 305.7 L544.2 305.8 L545.6 305.8 L546.9 305.9 L548.3 306.0 L549.6 306.0 L551.0 306.1 L552.4 306.2 L553.7 306.2 L555.1 306.3 L556.4 306.3 L557.8 306.4 L559.2 306.4 L560.5 306.5 L561.9 306.5 L563.2 306.6 L564.6 306.6 L565.9 306.7 L567.3 306.7 L568.7 306.7 L570.0 306.8 L571.4 306.8 L572.7 306.9 L574.1 306.9 L575.5 306.9 L576.8 307.0 L578.2 307.0 L579.5 307.0 L580.9 307.1 L582.2 307.1 L583.6 307.1 L585.0 307.2 L586.3 307.2 L587.7 307.2 L589.0 307.3 L590.4 307.3 L591.8 307.3 L593.1 307.3 L594.5 307.4 L595.8 307.4 L597.2 307.4 L598.5 307.4 L599.9 307.5 L601.3 307.5 L602.6 307.5 L604.0 307.5 L605.3 307.5 L606.7 307.6 L608.1 307.6 L609.4 307.6 L610.8 307.6 L612.1 307.7 L613.5 307.7 L614.8 307.7 L616.2 307.7 L617.6 307.7 L618.9 307.7 L620.3 307.8 L621.6 307.8 L623.0 307.8 L624.4 307.8 L625.7 307.8 L627.1 307.8 L628.4 307.9 L629.8 307.9 L631.2 307.9 L632.5 307.9 L633.9 307.9 L635.2 307.9 L636.6 307.9 L637.9 308.0 L639.3 308.0 L640.7 308.0" fill="none" stroke="#2233e0" stroke-width="3.0" stroke-linejoin="round" stroke-linecap="round"/>
<path d="M30.7 743.4 L32.1 743.4 L33.4 743.4 L34.8 743.3 L36.1 743.3 L37.5 743.3 L38.9 743.2 L40.2 743.2 L41.6 743.1 L42.9 743.1 L44.3 743.0 L45.6 743.0 L47.0 743.0 L48.4 742.9 L49.7 742.9 L51.1 742.8 L52.4 742.8 L53.8 742.7 L55.2 742.7 L56.5 742.6 L57.9 742.6 L59.2 742.5 L60.6 742.4 L61.9 742.4 L63.3 742.3 L64.7 742.3 L66.0 742.2 L67.4 742.1 L68.7 742.1 L70.1 742.0 L71.5 741.9 L72.8 741.9 L74.2 741.8 L75.5 741.7 L76.9 741.7 L78.2 741.6 L79.6 741.5 L81.0 741.4 L82.3 741.3 L83.7 741.3 L85.0 741.2 L86.4 741.1 L87.8 741.0 L89.1 740.9 L90.5 740.8 L91.8 740.7 L93.2 740.6 L94.5 740.5 L95.9 740.4 L97.3 740.3 L98.6 740.1 L100.0 740.0 L101.3 739.9 L102.7 739.8 L104.1 739.6 L105.4 739.5 L106.8 739.3 L108.1 739.2 L109.5 739.0 L110.9 738.9 L112.2 738.7 L113.6 738.5 L114.9 738.3 L116.3 738.1 L117.6 737.9 L119.0 737.7 L120.4 737.4 L121.7 737.2 L123.1 736.9 L124.4 736.6 L125.8 736.3 L127.2 736.0 L128.5 735.7 L129.9 735.3 L131.2 734.9 L132.6 734.5 L133.9 734.1 L135.3 733.6 L136.7 733.1 L138.0 732.6 L139.4 732.0 L140.7 731.4 L142.1 730.8 L143.5 730.1 L144.8 729.4 L146.2 728.6 L147.5 727.8 L148.9 726.9 L150.2 725.9 L151.6 724.9 L153.0 723.8 L154.3 722.6 L155.7 721.4 L157.0 720.1 L158.4 718.7 L159.8 717.2 L161.1 715.7 L162.5 714.0 L163.8 712.2 L165.2 710.4 L166.5 708.4 L167.9 706.4 L169.3 704.2 L170.6 701.9 L172.0 699.5 L173.3 697.0 L174.7 694.3 L176.1 691.5 L177.4 688.7 L178.8 685.7 L180.1 682.5 L181.5 679.3 L182.9 675.9 L184.2 672.4 L185.6 668.8 L186.9 665.0 L188.3 661.2 L189.6 657.2 L191.0 653.1 L192.4 649.0 L193.7 644.7 L195.1 640.4 L196.4 635.9 L197.8 631.4 L199.2 626.9 L200.5 622.3 L201.9 617.6 L203.2 612.9 L204.6 608.2 L205.9 603.5 L207.3 598.9 L208.7 594.2 L210.0 589.6 L211.4 585.0 L212.7 580.6 L214.1 576.2 L215.5 572.0 L216.8 567.9 L218.2 564.0 L219.5 560.2 L220.9 556.7 L222.2 553.4 L223.6 550.3 L225.0 547.6 L226.3 545.1 L227.7 542.9 L229.0 541.1 L230.4 539.6 L231.8 538.4 L233.1 537.7 L234.5 537.3 L235.8 537.2 L237.2 537.6 L238.5 538.3 L239.9 539.4 L241.3 540.8 L242.6 542.6 L244.0 544.8 L245.3 547.2 L246.7 549.9 L248.1 552.9 L249.4 556.2 L250.8 559.7 L252.1 563.4 L253.5 567.3 L254.9 571.4 L256.2 575.6 L257.6 580.0 L258.9 584.4 L260.3 589.0 L261.6 593.6 L263.0 598.2 L264.4 602.9 L265.7 607.6 L267.1 612.3 L268.4 617.0 L269.8 621.6 L271.2 626.3 L272.5 630.8 L273.9 635.3 L275.2 639.8 L276.6 644.1 L277.9 648.4 L279.3 652.6 L280.7 656.7 L282.0 660.6 L283.4 664.5 L284.7 668.3 L286.1 671.9 L287.5 675.4 L288.8 678.8 L290.2 682.1 L291.5 685.2 L292.9 688.3 L294.2 691.2 L295.6 693.9 L297.0 696.6 L298.3 699.1 L299.7 701.6 L301.0 703.9 L302.4 706.1 L303.8 708.2 L305.1 710.1 L306.5 712.0 L307.8 713.8 L309.2 715.4 L310.5 717.0 L311.9 718.5 L313.3 719.9 L314.6 721.2 L316.0 722.5 L317.3 723.6 L318.7 724.7 L320.1 725.8 L321.4 726.7 L322.8 727.6 L324.1 728.5 L325.5 729.3 L326.8 730.0 L328.2 730.7 L329.6 731.4 L330.9 732.0 L332.3 732.5 L333.6 733.1 L335.0 733.6 L336.4 734.0 L337.7 734.5 L339.1 734.9 L340.4 735.3 L341.8 735.6 L343.2 736.0 L344.5 736.3 L345.9 736.6 L347.2 736.9 L348.6 737.1 L349.9 737.4 L351.3 737.6 L352.7 737.9 L354.0 738.1 L355.4 738.3 L356.7 738.5 L358.1 738.7 L359.5 738.8 L360.8 739.0 L362.2 739.2 L363.5 739.3 L364.9 739.5 L366.2 739.6 L367.6 739.7 L369.0 739.9 L370.3 740.0 L371.7 740.1 L373.0 740.2 L374.4 740.4 L375.8 740.5 L377.1 740.6 L378.5 740.7 L379.8 740.8 L381.2 740.9 L382.5 741.0 L383.9 741.1 L385.3 741.2 L386.6 741.2 L388.0 741.3 L389.3 741.4 L390.7 741.5 L392.1 741.6 L393.4 741.6 L394.8 741.7 L396.1 741.8 L397.5 741.9 L398.8 741.9 L400.2 742.0 L401.6 742.1 L402.9 742.1 L404.3 742.2 L405.6 742.3 L407.0 742.3 L408.4 742.4 L409.7 742.4 L411.1 742.5 L412.4 742.5 L413.8 742.6 L415.2 742.7 L416.5 742.7 L417.9 742.8 L419.2 742.8 L420.6 742.9 L421.9 742.9 L423.3 742.9 L424.7 743.0 L426.0 743.0 L427.4 743.1 L428.7 743.1 L430.1 743.2 L431.5 743.2 L432.8 743.3 L434.2 743.3 L435.5 743.3 L436.9 743.4 L438.2 743.4 L439.6 743.4 L441.0 743.5 L442.3 743.5 L443.7 743.5 L445.0 743.6 L446.4 743.6 L447.8 743.6 L449.1 743.7 L450.5 743.7 L451.8 743.7 L453.2 743.8 L454.5 743.8 L455.9 743.8 L457.3 743.9 L458.6 743.9 L460.0 743.9 L461.3 743.9 L462.7 744.0 L464.1 744.0 L465.4 744.0 L466.8 744.1 L468.1 744.1 L469.5 744.1 L470.8 744.1 L472.2 744.2 L473.6 744.2 L474.9 744.2 L476.3 744.2 L477.6 744.2 L479.0 744.3 L480.4 744.3 L481.7 744.3 L483.1 744.3 L484.4 744.4 L485.8 744.4 L487.2 744.4 L488.5 744.4 L489.9 744.4 L491.2 744.5 L492.6 744.5 L493.9 744.5 L495.3 744.5 L496.7 744.5 L498.0 744.5 L499.4 744.6 L500.7 744.6 L502.1 744.6 L503.5 744.6 L504.8 744.6 L506.2 744.6 L507.5 744.7 L508.9 744.7 L510.2 744.7 L511.6 744.7 L513.0 744.7 L514.3 744.7 L515.7 744.8 L517.0 744.8 L518.4 744.8 L519.8 744.8 L521.1 744.8 L522.5 744.8 L523.8 744.8 L525.2 744.9 L526.5 744.9 L527.9 744.9 L529.3 744.9 L530.6 744.9 L532.0 744.9 L533.3 744.9 L534.7 744.9 L536.1 745.0 L537.4 745.0 L538.8 745.0 L540.1 745.0 L541.5 745.0 L542.8 745.0 L544.2 745.0 L545.6 745.0 L546.9 745.0 L548.3 745.1 L549.6 745.1 L551.0 745.1 L552.4 745.1 L553.7 745.1 L555.1 745.1 L556.4 745.1 L557.8 745.1 L559.2 745.1 L560.5 745.1 L561.9 745.2 L563.2 745.2 L564.6 745.2 L565.9 745.2 L567.3 745.2 L568.7 745.2 L570.0 745.2 L571.4 745.2 L572.7 745.2 L574.1 745.2 L575.5 745.2 L576.8 745.3 L578.2 745.3 L579.5 745.3 L580.9 745.3 L582.2 745.3 L583.6 745.3 L585.0 745.3 L586.3 745.3 L587.7 745.3 L589.0 745.3 L590.4 745.3 L591.8 745.3 L593.1 745.3 L594.5 745.4 L595.8 745.4 L597.2 745.4 L598.5 745.4 L599.9 745.4 L601.3 745.4 L602.6 745.4 L604.0 745.4 L605.3 745.4 L606.7 745.4 L608.1 745.4 L609.4 745.4 L610.8 745.4 L612.1 745.4 L613.5 745.4 L614.8 745.4 L616.2 745.5 L617.6 745.5 L618.9 745.5 L620.3 745.5 L621.6 745.5 L623.0 745.5 L624.4 745.5 L625.7 745.5 L627.1 745.5 L628.4 745.5 L629.8 745.5 L631.2 745.5 L632.5 745.5 L633.9 745.5 L635.2 745.5 L636.6 745.5 L637.9 745.5 L639.3 745.5 L640.7 745.6 L640.7 746.3 L30.7 746.3 Z" fill="url(#g1m)" stroke="#0c0ce0" stroke-width="4.2" stroke-linejoin="round"/>
<path d="M30.7 746.2 L32.1 746.2 L33.4 746.2 L34.8 746.2 L36.1 746.2 L37.5 746.2 L38.9 746.2 L40.2 746.2 L41.6 746.2 L42.9 746.2 L44.3 746.2 L45.6 746.2 L47.0 746.2 L48.4 746.2 L49.7 746.2 L51.1 746.2 L52.4 746.2 L53.8 746.2 L55.2 746.2 L56.5 746.2 L57.9 746.2 L59.2 746.2 L60.6 746.2 L61.9 746.2 L63.3 746.2 L64.7 746.2 L66.0 746.2 L67.4 746.2 L68.7 746.2 L70.1 746.2 L71.5 746.2 L72.8 746.2 L74.2 746.2 L75.5 746.2 L76.9 746.2 L78.2 746.2 L79.6 746.2 L81.0 746.2 L82.3 746.2 L83.7 746.2 L85.0 746.2 L86.4 746.2 L87.8 746.2 L89.1 746.2 L90.5 746.2 L91.8 746.2 L93.2 746.2 L94.5 746.2 L95.9 746.2 L97.3 746.2 L98.6 746.2 L100.0 746.2 L101.3 746.2 L102.7 746.2 L104.1 746.2 L105.4 746.2 L106.8 746.2 L108.1 746.1 L109.5 746.1 L110.9 746.1 L112.2 746.1 L113.6 746.1 L114.9 746.1 L116.3 746.1 L117.6 746.1 L119.0 746.1 L120.4 746.1 L121.7 746.1 L123.1 746.1 L124.4 746.1 L125.8 746.1 L127.2 746.1 L128.5 746.1 L129.9 746.1 L131.2 746.1 L132.6 746.1 L133.9 746.1 L135.3 746.1 L136.7 746.1 L138.0 746.1 L139.4 746.1 L140.7 746.1 L142.1 746.1 L143.5 746.1 L144.8 746.1 L146.2 746.1 L147.5 746.1 L148.9 746.1 L150.2 746.0 L151.6 746.0 L153.0 746.0 L154.3 746.0 L155.7 746.0 L157.0 746.0 L158.4 746.0 L159.8 746.0 L161.1 746.0 L162.5 746.0 L163.8 746.0 L165.2 746.0 L166.5 745.9 L167.9 745.9 L169.3 745.9 L170.6 745.9 L172.0 745.9 L173.3 745.9 L174.7 745.8 L176.1 745.8 L177.4 745.8 L178.8 745.8 L180.1 745.7 L181.5 745.7 L182.9 745.6 L184.2 745.6 L185.6 745.5 L186.9 745.5 L188.3 745.4 L189.6 745.4 L191.0 745.3 L192.4 745.2 L193.7 745.1 L195.1 745.0 L196.4 744.9 L197.8 744.7 L199.2 744.6 L200.5 744.4 L201.9 744.2 L203.2 744.1 L204.6 743.8 L205.9 743.6 L207.3 743.3 L208.7 743.1 L210.0 742.8 L211.4 742.4 L212.7 742.1 L214.1 741.7 L215.5 741.3 L216.8 740.8 L218.2 740.3 L219.5 739.8 L220.9 739.2 L222.2 738.6 L223.6 738.0 L225.0 737.3 L226.3 736.5 L227.7 735.7 L229.0 734.9 L230.4 734.0 L231.8 733.1 L233.1 732.1 L234.5 731.0 L235.8 730.0 L237.2 728.8 L238.5 727.6 L239.9 726.4 L241.3 725.1 L242.6 723.7 L244.0 722.3 L245.3 720.8 L246.7 719.3 L248.1 717.8 L249.4 716.2 L250.8 714.6 L252.1 713.0 L253.5 711.3 L254.9 709.6 L256.2 707.8 L257.6 706.1 L258.9 704.4 L260.3 702.6 L261.6 700.8 L263.0 699.1 L264.4 697.3 L265.7 695.6 L267.1 693.9 L268.4 692.3 L269.8 690.6 L271.2 689.1 L272.5 687.6 L273.9 686.1 L275.2 684.7 L276.6 683.4 L277.9 682.1 L279.3 681.0 L280.7 679.9 L282.0 679.0 L283.4 678.1 L284.7 677.4 L286.1 676.7 L287.5 676.2 L288.8 675.8 L290.2 675.5 L291.5 675.3 L292.9 675.3 L294.2 675.4 L295.6 675.6 L297.0 675.9 L298.3 676.4 L299.7 676.9 L301.0 677.6 L302.4 678.4 L303.8 679.3 L305.1 680.3 L306.5 681.4 L307.8 682.6 L309.2 683.9 L310.5 685.2 L311.9 686.6 L313.3 688.1 L314.6 689.6 L316.0 691.2 L317.3 692.9 L318.7 694.6 L320.1 696.3 L321.4 698.0 L322.8 699.7 L324.1 701.5 L325.5 703.2 L326.8 705.0 L328.2 706.8 L329.6 708.5 L330.9 710.2 L332.3 711.9 L333.6 713.6 L335.0 715.2 L336.4 716.8 L337.7 718.4 L339.1 719.9 L340.4 721.4 L341.8 722.8 L343.2 724.2 L344.5 725.5 L345.9 726.8 L347.2 728.1 L348.6 729.2 L349.9 730.4 L351.3 731.4 L352.7 732.5 L354.0 733.4 L355.4 734.3 L356.7 735.2 L358.1 736.0 L359.5 736.8 L360.8 737.5 L362.2 738.2 L363.5 738.8 L364.9 739.4 L366.2 740.0 L367.6 740.5 L369.0 741.0 L370.3 741.4 L371.7 741.8 L373.0 742.2 L374.4 742.6 L375.8 742.9 L377.1 743.2 L378.5 743.4 L379.8 743.7 L381.2 743.9 L382.5 744.1 L383.9 744.3 L385.3 744.5 L386.6 744.6 L388.0 744.8 L389.3 744.9 L390.7 745.0 L392.1 745.1 L393.4 745.2 L394.8 745.3 L396.1 745.4 L397.5 745.5 L398.8 745.5 L400.2 745.6 L401.6 745.6 L402.9 745.7 L404.3 745.7 L405.6 745.7 L407.0 745.8 L408.4 745.8 L409.7 745.8 L411.1 745.9 L412.4 745.9 L413.8 745.9 L415.2 745.9 L416.5 745.9 L417.9 745.9 L419.2 746.0 L420.6 746.0 L421.9 746.0 L423.3 746.0 L424.7 746.0 L426.0 746.0 L427.4 746.0 L428.7 746.0 L430.1 746.0 L431.5 746.0 L432.8 746.0 L434.2 746.0 L435.5 746.1 L436.9 746.1 L438.2 746.1 L439.6 746.1 L441.0 746.1 L442.3 746.1 L443.7 746.1 L445.0 746.1 L446.4 746.1 L447.8 746.1 L449.1 746.1 L450.5 746.1 L451.8 746.1 L453.2 746.1 L454.5 746.1 L455.9 746.1 L457.3 746.1 L458.6 746.1 L460.0 746.1 L461.3 746.1 L462.7 746.1 L464.1 746.1 L465.4 746.1 L466.8 746.1 L468.1 746.1 L469.5 746.1 L470.8 746.1 L472.2 746.1 L473.6 746.1 L474.9 746.1 L476.3 746.1 L477.6 746.2 L479.0 746.2 L480.4 746.2 L481.7 746.2 L483.1 746.2 L484.4 746.2 L485.8 746.2 L487.2 746.2 L488.5 746.2 L489.9 746.2 L491.2 746.2 L492.6 746.2 L493.9 746.2 L495.3 746.2 L496.7 746.2 L498.0 746.2 L499.4 746.2 L500.7 746.2 L502.1 746.2 L503.5 746.2 L504.8 746.2 L506.2 746.2 L507.5 746.2 L508.9 746.2 L510.2 746.2 L511.6 746.2 L513.0 746.2 L514.3 746.2 L515.7 746.2 L517.0 746.2 L518.4 746.2 L519.8 746.2 L521.1 746.2 L522.5 746.2 L523.8 746.2 L525.2 746.2 L526.5 746.2 L527.9 746.2 L529.3 746.2 L530.6 746.2 L532.0 746.2 L533.3 746.2 L534.7 746.2 L536.1 746.2 L537.4 746.2 L538.8 746.2 L540.1 746.2 L541.5 746.2 L542.8 746.2 L544.2 746.2 L545.6 746.2 L546.9 746.2 L548.3 746.2 L549.6 746.2 L551.0 746.2 L552.4 746.2 L553.7 746.2 L555.1 746.2 L556.4 746.2 L557.8 746.2 L559.2 746.2 L560.5 746.2 L561.9 746.2 L563.2 746.2 L564.6 746.2 L565.9 746.2 L567.3 746.2 L568.7 746.2 L570.0 746.2 L571.4 746.2 L572.7 746.2 L574.1 746.2 L575.5 746.2 L576.8 746.2 L578.2 746.2 L579.5 746.2 L580.9 746.2 L582.2 746.2 L583.6 746.2 L585.0 746.2 L586.3 746.2 L587.7 746.2 L589.0 746.2 L590.4 746.2 L591.8 746.2 L593.1 746.2 L594.5 746.2 L595.8 746.2 L597.2 746.2 L598.5 746.2 L599.9 746.2 L601.3 746.2 L602.6 746.2 L604.0 746.2 L605.3 746.2 L606.7 746.2 L608.1 746.2 L609.4 746.2 L610.8 746.2 L612.1 746.2 L613.5 746.2 L614.8 746.2 L616.2 746.2 L617.6 746.3 L618.9 746.3 L620.3 746.3 L621.6 746.3 L623.0 746.3 L624.4 746.3 L625.7 746.3 L627.1 746.3 L628.4 746.3 L629.8 746.3 L631.2 746.3 L632.5 746.3 L633.9 746.3 L635.2 746.3 L636.6 746.3 L637.9 746.3 L639.3 746.3 L640.7 746.3 L640.7 746.3 L30.7 746.3 Z" fill="#74e8fc" stroke="#14cff2" stroke-width="3.8" stroke-linejoin="round"/>
<path d="M30.7 746.2 L32.1 746.2 L33.4 746.2 L34.8 746.2 L36.1 746.2 L37.5 746.2 L38.9 746.2 L40.2 746.2 L41.6 746.2 L42.9 746.2 L44.3 746.2 L45.6 746.2 L47.0 746.2 L48.4 746.2 L49.7 746.2 L51.1 746.2 L52.4 746.2 L53.8 746.2 L55.2 746.2 L56.5 746.2 L57.9 746.2 L59.2 746.2 L60.6 746.2 L61.9 746.2 L63.3 746.2 L64.7 746.2 L66.0 746.2 L67.4 746.2 L68.7 746.2 L70.1 746.2 L71.5 746.2 L72.8 746.2 L74.2 746.2 L75.5 746.2 L76.9 746.2 L78.2 746.2 L79.6 746.2 L81.0 746.2 L82.3 746.2 L83.7 746.2 L85.0 746.2 L86.4 746.2 L87.8 746.2 L89.1 746.2 L90.5 746.2 L91.8 746.2 L93.2 746.2 L94.5 746.2 L95.9 746.2 L97.3 746.2 L98.6 746.2 L100.0 746.2 L101.3 746.2 L102.7 746.2 L104.1 746.2 L105.4 746.2 L106.8 746.2 L108.1 746.2 L109.5 746.2 L110.9 746.2 L112.2 746.2 L113.6 746.2 L114.9 746.2 L116.3 746.2 L117.6 746.2 L119.0 746.2 L120.4 746.2 L121.7 746.2 L123.1 746.2 L124.4 746.2 L125.8 746.2 L127.2 746.2 L128.5 746.2 L129.9 746.2 L131.2 746.2 L132.6 746.2 L133.9 746.2 L135.3 746.2 L136.7 746.2 L138.0 746.1 L139.4 746.1 L140.7 746.1 L142.1 746.1 L143.5 746.1 L144.8 746.1 L146.2 746.1 L147.5 746.1 L148.9 746.1 L150.2 746.1 L151.6 746.1 L153.0 746.1 L154.3 746.1 L155.7 746.1 L157.0 746.1 L158.4 746.1 L159.8 746.1 L161.1 746.1 L162.5 746.1 L163.8 746.1 L165.2 746.1 L166.5 746.1 L167.9 746.1 L169.3 746.1 L170.6 746.1 L172.0 746.1 L173.3 746.1 L174.7 746.1 L176.1 746.1 L177.4 746.1 L178.8 746.1 L180.1 746.1 L181.5 746.1 L182.9 746.1 L184.2 746.1 L185.6 746.1 L186.9 746.1 L188.3 746.1 L189.6 746.1 L191.0 746.1 L192.4 746.1 L193.7 746.1 L195.1 746.1 L196.4 746.1 L197.8 746.1 L199.2 746.1 L200.5 746.1 L201.9 746.1 L203.2 746.1 L204.6 746.0 L205.9 746.0 L207.3 746.0 L208.7 746.0 L210.0 746.0 L211.4 746.0 L212.7 746.0 L214.1 746.0 L215.5 746.0 L216.8 746.0 L218.2 746.0 L219.5 746.0 L220.9 746.0 L222.2 746.0 L223.6 746.0 L225.0 746.0 L226.3 746.0 L227.7 746.0 L229.0 746.0 L230.4 746.0 L231.8 746.0 L233.1 746.0 L234.5 746.0 L235.8 746.0 L237.2 746.0 L238.5 746.0 L239.9 745.9 L241.3 745.9 L242.6 745.9 L244.0 745.9 L245.3 745.9 L246.7 745.9 L248.1 745.9 L249.4 745.9 L250.8 745.9 L252.1 745.9 L253.5 745.9 L254.9 745.9 L256.2 745.9 L257.6 745.9 L258.9 745.9 L260.3 745.9 L261.6 745.9 L263.0 745.8 L264.4 745.8 L265.7 745.8 L267.1 745.8 L268.4 745.8 L269.8 745.8 L271.2 745.8 L272.5 745.8 L273.9 745.8 L275.2 745.8 L276.6 745.8 L277.9 745.8 L279.3 745.7 L280.7 745.7 L282.0 745.7 L283.4 745.7 L284.7 745.7 L286.1 745.7 L287.5 745.7 L288.8 745.7 L290.2 745.7 L291.5 745.6 L292.9 745.6 L294.2 745.6 L295.6 745.6 L297.0 745.6 L298.3 745.6 L299.7 745.6 L301.0 745.5 L302.4 745.5 L303.8 745.5 L305.1 745.5 L306.5 745.5 L307.8 745.4 L309.2 745.4 L310.5 745.4 L311.9 745.4 L313.3 745.3 L314.6 745.3 L316.0 745.3 L317.3 745.2 L318.7 745.2 L320.1 745.1 L321.4 745.1 L322.8 745.0 L324.1 745.0 L325.5 744.9 L326.8 744.8 L328.2 744.8 L329.6 744.7 L330.9 744.6 L332.3 744.5 L333.6 744.4 L335.0 744.3 L336.4 744.1 L337.7 744.0 L339.1 743.8 L340.4 743.7 L341.8 743.5 L343.2 743.3 L344.5 743.1 L345.9 742.8 L347.2 742.6 L348.6 742.3 L349.9 742.0 L351.3 741.7 L352.7 741.3 L354.0 741.0 L355.4 740.6 L356.7 740.1 L358.1 739.7 L359.5 739.2 L360.8 738.6 L362.2 738.1 L363.5 737.5 L364.9 736.8 L366.2 736.2 L367.6 735.5 L369.0 734.7 L370.3 733.9 L371.7 733.1 L373.0 732.2 L374.4 731.3 L375.8 730.3 L377.1 729.3 L378.5 728.3 L379.8 727.2 L381.2 726.1 L382.5 725.0 L383.9 723.8 L385.3 722.6 L386.6 721.3 L388.0 720.0 L389.3 718.7 L390.7 717.4 L392.1 716.1 L393.4 714.7 L394.8 713.4 L396.1 712.0 L397.5 710.7 L398.8 709.3 L400.2 707.9 L401.6 706.6 L402.9 705.3 L404.3 704.0 L405.6 702.7 L407.0 701.5 L408.4 700.3 L409.7 699.2 L411.1 698.1 L412.4 697.1 L413.8 696.2 L415.2 695.3 L416.5 694.5 L417.9 693.8 L419.2 693.2 L420.6 692.7 L421.9 692.3 L423.3 691.9 L424.7 691.7 L426.0 691.6 L427.4 691.6 L428.7 691.7 L430.1 691.9 L431.5 692.2 L432.8 692.6 L434.2 693.1 L435.5 693.7 L436.9 694.4 L438.2 695.2 L439.6 696.0 L441.0 697.0 L442.3 698.0 L443.7 699.0 L445.0 700.2 L446.4 701.3 L447.8 702.5 L449.1 703.8 L450.5 705.1 L451.8 706.4 L453.2 707.7 L454.5 709.1 L455.9 710.4 L457.3 711.8 L458.6 713.2 L460.0 714.5 L461.3 715.9 L462.7 717.2 L464.1 718.6 L465.4 719.9 L466.8 721.1 L468.1 722.4 L469.5 723.6 L470.8 724.8 L472.2 725.9 L473.6 727.1 L474.9 728.1 L476.3 729.2 L477.6 730.2 L479.0 731.1 L480.4 732.1 L481.7 732.9 L483.1 733.8 L484.4 734.6 L485.8 735.3 L487.2 736.1 L488.5 736.7 L489.9 737.4 L491.2 738.0 L492.6 738.6 L493.9 739.1 L495.3 739.6 L496.7 740.1 L498.0 740.5 L499.4 740.9 L500.7 741.3 L502.1 741.6 L503.5 742.0 L504.8 742.3 L506.2 742.5 L507.5 742.8 L508.9 743.0 L510.2 743.3 L511.6 743.5 L513.0 743.6 L514.3 743.8 L515.7 744.0 L517.0 744.1 L518.4 744.2 L519.8 744.4 L521.1 744.5 L522.5 744.6 L523.8 744.7 L525.2 744.7 L526.5 744.8 L527.9 744.9 L529.3 745.0 L530.6 745.0 L532.0 745.1 L533.3 745.1 L534.7 745.2 L536.1 745.2 L537.4 745.3 L538.8 745.3 L540.1 745.3 L541.5 745.4 L542.8 745.4 L544.2 745.4 L545.6 745.4 L546.9 745.5 L548.3 745.5 L549.6 745.5 L551.0 745.5 L552.4 745.5 L553.7 745.6 L555.1 745.6 L556.4 745.6 L557.8 745.6 L559.2 745.6 L560.5 745.6 L561.9 745.6 L563.2 745.7 L564.6 745.7 L565.9 745.7 L567.3 745.7 L568.7 745.7 L570.0 745.7 L571.4 745.7 L572.7 745.7 L574.1 745.7 L575.5 745.8 L576.8 745.8 L578.2 745.8 L579.5 745.8 L580.9 745.8 L582.2 745.8 L583.6 745.8 L585.0 745.8 L586.3 745.8 L587.7 745.8 L589.0 745.8 L590.4 745.8 L591.8 745.9 L593.1 745.9 L594.5 745.9 L595.8 745.9 L597.2 745.9 L598.5 745.9 L599.9 745.9 L601.3 745.9 L602.6 745.9 L604.0 745.9 L605.3 745.9 L606.7 745.9 L608.1 745.9 L609.4 745.9 L610.8 745.9 L612.1 745.9 L613.5 745.9 L614.8 746.0 L616.2 746.0 L617.6 746.0 L618.9 746.0 L620.3 746.0 L621.6 746.0 L623.0 746.0 L624.4 746.0 L625.7 746.0 L627.1 746.0 L628.4 746.0 L629.8 746.0 L631.2 746.0 L632.5 746.0 L633.9 746.0 L635.2 746.0 L636.6 746.0 L637.9 746.0 L639.3 746.0 L640.7 746.0 L640.7 746.3 L30.7 746.3 Z" fill="#72fc72" stroke="#06f812" stroke-width="4.0" stroke-linejoin="round"/>
<path d="M30.7 746.2 L32.1 746.2 L33.4 746.2 L34.8 746.2 L36.1 746.2 L37.5 746.2 L38.9 746.2 L40.2 746.2 L41.6 746.2 L42.9 746.2 L44.3 746.2 L45.6 746.2 L47.0 746.2 L48.4 746.2 L49.7 746.2 L51.1 746.2 L52.4 746.2 L53.8 746.2 L55.2 746.2 L56.5 746.2 L57.9 746.2 L59.2 746.2 L60.6 746.2 L61.9 746.2 L63.3 746.2 L64.7 746.2 L66.0 746.2 L67.4 746.2 L68.7 746.2 L70.1 746.2 L71.5 746.2 L72.8 746.2 L74.2 746.2 L75.5 746.2 L76.9 746.2 L78.2 746.2 L79.6 746.2 L81.0 746.2 L82.3 746.2 L83.7 746.2 L85.0 746.2 L86.4 746.2 L87.8 746.2 L89.1 746.2 L90.5 746.2 L91.8 746.2 L93.2 746.2 L94.5 746.2 L95.9 746.2 L97.3 746.2 L98.6 746.2 L100.0 746.2 L101.3 746.2 L102.7 746.2 L104.1 746.2 L105.4 746.2 L106.8 746.2 L108.1 746.2 L109.5 746.2 L110.9 746.2 L112.2 746.2 L113.6 746.2 L114.9 746.2 L116.3 746.2 L117.6 746.2 L119.0 746.2 L120.4 746.2 L121.7 746.2 L123.1 746.2 L124.4 746.2 L125.8 746.2 L127.2 746.2 L128.5 746.2 L129.9 746.2 L131.2 746.2 L132.6 746.2 L133.9 746.2 L135.3 746.2 L136.7 746.2 L138.0 746.2 L139.4 746.2 L140.7 746.2 L142.1 746.1 L143.5 746.1 L144.8 746.1 L146.2 746.1 L147.5 746.1 L148.9 746.1 L150.2 746.1 L151.6 746.1 L153.0 746.1 L154.3 746.1 L155.7 746.1 L157.0 746.1 L158.4 746.1 L159.8 746.1 L161.1 746.1 L162.5 746.1 L163.8 746.1 L165.2 746.1 L166.5 746.1 L167.9 746.1 L169.3 746.1 L170.6 746.1 L172.0 746.1 L173.3 746.1 L174.7 746.1 L176.1 746.1 L177.4 746.1 L178.8 746.1 L180.1 746.1 L181.5 746.1 L182.9 746.1 L184.2 746.1 L185.6 746.1 L186.9 746.1 L188.3 746.1 L189.6 746.1 L191.0 746.1 L192.4 746.1 L193.7 746.1 L195.1 746.1 L196.4 746.0 L197.8 746.0 L199.2 746.0 L200.5 746.0 L201.9 746.0 L203.2 746.0 L204.6 746.0 L205.9 746.0 L207.3 746.0 L208.7 746.0 L210.0 746.0 L211.4 746.0 L212.7 746.0 L214.1 746.0 L215.5 746.0 L216.8 746.0 L218.2 746.0 L219.5 746.0 L220.9 746.0 L222.2 746.0 L223.6 746.0 L225.0 745.9 L226.3 745.9 L227.7 745.9 L229.0 745.9 L230.4 745.9 L231.8 745.9 L233.1 745.9 L234.5 745.9 L235.8 745.9 L237.2 745.9 L238.5 745.9 L239.9 745.9 L241.3 745.9 L242.6 745.9 L244.0 745.8 L245.3 745.8 L246.7 745.8 L248.1 745.8 L249.4 745.8 L250.8 745.8 L252.1 745.8 L253.5 745.8 L254.9 745.8 L256.2 745.7 L257.6 745.7 L258.9 745.7 L260.3 745.7 L261.6 745.7 L263.0 745.7 L264.4 745.6 L265.7 745.6 L267.1 745.6 L268.4 745.6 L269.8 745.6 L271.2 745.5 L272.5 745.5 L273.9 745.5 L275.2 745.5 L276.6 745.4 L277.9 745.4 L279.3 745.4 L280.7 745.3 L282.0 745.3 L283.4 745.3 L284.7 745.2 L286.1 745.2 L287.5 745.1 L288.8 745.1 L290.2 745.0 L291.5 744.9 L292.9 744.9 L294.2 744.8 L295.6 744.7 L297.0 744.6 L298.3 744.5 L299.7 744.5 L301.0 744.4 L302.4 744.2 L303.8 744.1 L305.1 744.0 L306.5 743.9 L307.8 743.7 L309.2 743.6 L310.5 743.4 L311.9 743.3 L313.3 743.1 L314.6 742.9 L316.0 742.7 L317.3 742.5 L318.7 742.3 L320.1 742.1 L321.4 741.9 L322.8 741.6 L324.1 741.4 L325.5 741.1 L326.8 740.9 L328.2 740.6 L329.6 740.3 L330.9 740.0 L332.3 739.7 L333.6 739.4 L335.0 739.0 L336.4 738.7 L337.7 738.4 L339.1 738.0 L340.4 737.7 L341.8 737.3 L343.2 737.0 L344.5 736.6 L345.9 736.3 L347.2 735.9 L348.6 735.6 L349.9 735.2 L351.3 734.9 L352.7 734.5 L354.0 734.2 L355.4 733.9 L356.7 733.6 L358.1 733.3 L359.5 733.0 L360.8 732.8 L362.2 732.5 L363.5 732.3 L364.9 732.2 L366.2 732.0 L367.6 731.9 L369.0 731.8 L370.3 731.7 L371.7 731.7 L373.0 731.7 L374.4 731.7 L375.8 731.7 L377.1 731.8 L378.5 731.9 L379.8 732.1 L381.2 732.2 L382.5 732.4 L383.9 732.7 L385.3 732.9 L386.6 733.2 L388.0 733.5 L389.3 733.8 L390.7 734.1 L392.1 734.4 L393.4 734.7 L394.8 735.1 L396.1 735.4 L397.5 735.8 L398.8 736.1 L400.2 736.5 L401.6 736.8 L402.9 737.2 L404.3 737.5 L405.6 737.9 L407.0 738.2 L408.4 738.6 L409.7 738.9 L411.1 739.2 L412.4 739.5 L413.8 739.8 L415.2 740.1 L416.5 740.4 L417.9 740.7 L419.2 741.0 L420.6 741.3 L421.9 741.5 L423.3 741.8 L424.7 742.0 L426.0 742.2 L427.4 742.4 L428.7 742.6 L430.1 742.8 L431.5 743.0 L432.8 743.2 L434.2 743.4 L435.5 743.5 L436.9 743.7 L438.2 743.8 L439.6 744.0 L441.0 744.1 L442.3 744.2 L443.7 744.3 L445.0 744.4 L446.4 744.5 L447.8 744.6 L449.1 744.7 L450.5 744.8 L451.8 744.8 L453.2 744.9 L454.5 745.0 L455.9 745.0 L457.3 745.1 L458.6 745.1 L460.0 745.2 L461.3 745.2 L462.7 745.3 L464.1 745.3 L465.4 745.4 L466.8 745.4 L468.1 745.4 L469.5 745.5 L470.8 745.5 L472.2 745.5 L473.6 745.5 L474.9 745.6 L476.3 745.6 L477.6 745.6 L479.0 745.6 L480.4 745.6 L481.7 745.7 L483.1 745.7 L484.4 745.7 L485.8 745.7 L487.2 745.7 L488.5 745.7 L489.9 745.7 L491.2 745.8 L492.6 745.8 L493.9 745.8 L495.3 745.8 L496.7 745.8 L498.0 745.8 L499.4 745.8 L500.7 745.8 L502.1 745.8 L503.5 745.9 L504.8 745.9 L506.2 745.9 L507.5 745.9 L508.9 745.9 L510.2 745.9 L511.6 745.9 L513.0 745.9 L514.3 745.9 L515.7 745.9 L517.0 745.9 L518.4 745.9 L519.8 745.9 L521.1 746.0 L522.5 746.0 L523.8 746.0 L525.2 746.0 L526.5 746.0 L527.9 746.0 L529.3 746.0 L530.6 746.0 L532.0 746.0 L533.3 746.0 L534.7 746.0 L536.1 746.0 L537.4 746.0 L538.8 746.0 L540.1 746.0 L541.5 746.0 L542.8 746.0 L544.2 746.0 L545.6 746.0 L546.9 746.0 L548.3 746.0 L549.6 746.0 L551.0 746.1 L552.4 746.1 L553.7 746.1 L555.1 746.1 L556.4 746.1 L557.8 746.1 L559.2 746.1 L560.5 746.1 L561.9 746.1 L563.2 746.1 L564.6 746.1 L565.9 746.1 L567.3 746.1 L568.7 746.1 L570.0 746.1 L571.4 746.1 L572.7 746.1 L574.1 746.1 L575.5 746.1 L576.8 746.1 L578.2 746.1 L579.5 746.1 L580.9 746.1 L582.2 746.1 L583.6 746.1 L585.0 746.1 L586.3 746.1 L587.7 746.1 L589.0 746.1 L590.4 746.1 L591.8 746.1 L593.1 746.1 L594.5 746.1 L595.8 746.1 L597.2 746.1 L598.5 746.1 L599.9 746.1 L601.3 746.1 L602.6 746.1 L604.0 746.2 L605.3 746.2 L606.7 746.2 L608.1 746.2 L609.4 746.2 L610.8 746.2 L612.1 746.2 L613.5 746.2 L614.8 746.2 L616.2 746.2 L617.6 746.2 L618.9 746.2 L620.3 746.2 L621.6 746.2 L623.0 746.2 L624.4 746.2 L625.7 746.2 L627.1 746.2 L628.4 746.2 L629.8 746.2 L631.2 746.2 L632.5 746.2 L633.9 746.2 L635.2 746.2 L636.6 746.2 L637.9 746.2 L639.3 746.2 L640.7 746.2 L640.7 746.3 L30.7 746.3 Z" fill="#6cc46c" stroke="#12a012" stroke-width="4.0" stroke-linejoin="round"/>
<g fill="none" stroke="#e01818" stroke-width="1.7"><circle cx="30.7" cy="675.2" r="4.9"/><circle cx="34.1" cy="674.8" r="4.9"/><circle cx="37.5" cy="678.5" r="4.9"/><circle cx="40.9" cy="675.3" r="4.9"/><circle cx="44.3" cy="675.7" r="4.9"/><circle cx="47.7" cy="676.2" r="4.9"/><circle cx="51.1" cy="679.9" r="4.9"/><circle cx="54.5" cy="678.2" r="4.9"/><circle cx="57.9" cy="677.0" r="4.9"/><circle cx="61.3" cy="673.8" r="4.9"/><circle cx="64.7" cy="671.0" r="4.9"/><circle cx="68.1" cy="678.5" r="4.9"/><circle cx="71.5" cy="678.4" r="4.9"/><circle cx="74.9" cy="674.6" r="4.9"/><circle cx="78.3" cy="676.7" r="4.9"/><circle cx="81.7" cy="677.3" r="4.9"/><circle cx="85.1" cy="677.2" r="4.9"/><circle cx="88.5" cy="677.3" r="4.9"/><circle cx="91.9" cy="672.5" r="4.9"/><circle cx="95.3" cy="678.8" r="4.9"/><circle cx="98.7" cy="669.4" r="4.9"/><circle cx="102.1" cy="676.0" r="4.9"/><circle cx="105.5" cy="674.5" r="4.9"/><circle cx="108.9" cy="675.4" r="4.9"/><circle cx="112.3" cy="678.3" r="4.9"/><circle cx="115.7" cy="676.5" r="4.9"/><circle cx="119.1" cy="667.2" r="4.9"/><circle cx="122.5" cy="664.8" r="4.9"/><circle cx="125.9" cy="672.3" r="4.9"/><circle cx="129.3" cy="665.4" r="4.9"/><circle cx="132.7" cy="667.7" r="4.9"/><circle cx="136.1" cy="669.3" r="4.9"/><circle cx="139.5" cy="659.6" r="4.9"/><circle cx="142.9" cy="656.4" r="4.9"/><circle cx="146.3" cy="662.2" r="4.9"/><circle cx="149.7" cy="659.1" r="4.9"/><circle cx="153.1" cy="655.3" r="4.9"/><circle cx="156.5" cy="653.0" r="4.9"/><circle cx="159.9" cy="646.2" r="4.9"/><circle cx="163.3" cy="639.6" r="4.9"/><circle cx="166.7" cy="639.0" r="4.9"/><circle cx="170.1" cy="630.6" r="4.9"/><circle cx="173.5" cy="621.9" r="4.9"/><circle cx="176.9" cy="621.7" r="4.9"/><circle cx="180.3" cy="611.7" r="4.9"/><circle cx="183.7" cy="604.4" r="4.9"/><circle cx="187.1" cy="590.1" r="4.9"/><circle cx="190.5" cy="580.8" r="4.9"/><circle cx="193.9" cy="568.6" r="4.9"/><circle cx="197.3" cy="557.4" r="4.9"/><circle cx="200.7" cy="548.8" r="4.9"/><circle cx="204.1" cy="533.2" r="4.9"/><circle cx="207.5" cy="524.5" r="4.9"/><circle cx="210.9" cy="512.2" r="4.9"/><circle cx="214.3" cy="505.8" r="4.9"/><circle cx="217.7" cy="483.4" r="4.9"/><circle cx="221.1" cy="480.7" r="4.9"/><circle cx="224.5" cy="468.7" r="4.9"/><circle cx="227.9" cy="461.6" r="4.9"/><circle cx="231.3" cy="451.4" r="4.9"/><circle cx="234.7" cy="451.1" r="4.9"/><circle cx="238.1" cy="453.4" r="4.9"/><circle cx="241.5" cy="450.8" r="4.9"/><circle cx="244.9" cy="453.1" r="4.9"/><circle cx="248.3" cy="455.1" r="4.9"/><circle cx="251.7" cy="464.2" r="4.9"/><circle cx="255.1" cy="465.7" r="4.9"/><circle cx="258.5" cy="464.7" r="4.9"/><circle cx="261.9" cy="476.4" r="4.9"/><circle cx="265.3" cy="479.4" r="4.9"/><circle cx="268.7" cy="482.7" r="4.9"/><circle cx="272.1" cy="499.5" r="4.9"/><circle cx="275.5" cy="513.5" r="4.9"/><circle cx="278.9" cy="517.2" r="4.9"/><circle cx="282.3" cy="521.2" r="4.9"/><circle cx="285.7" cy="530.0" r="4.9"/><circle cx="289.1" cy="544.8" r="4.9"/><circle cx="292.5" cy="549.5" r="4.9"/><circle cx="295.9" cy="556.9" r="4.9"/><circle cx="299.3" cy="564.2" r="4.9"/><circle cx="302.7" cy="572.0" r="4.9"/><circle cx="306.1" cy="581.8" r="4.9"/><circle cx="309.5" cy="588.0" r="4.9"/><circle cx="312.9" cy="593.7" r="4.9"/><circle cx="316.3" cy="596.1" r="4.9"/><circle cx="319.7" cy="607.4" r="4.9"/><circle cx="323.1" cy="609.3" r="4.9"/><circle cx="326.5" cy="620.5" r="4.9"/><circle cx="329.9" cy="617.7" r="4.9"/><circle cx="333.3" cy="625.8" r="4.9"/><circle cx="336.7" cy="630.1" r="4.9"/><circle cx="340.1" cy="629.1" r="4.9"/><circle cx="343.5" cy="641.9" r="4.9"/><circle cx="346.9" cy="643.2" r="4.9"/><circle cx="350.3" cy="638.3" r="4.9"/><circle cx="353.7" cy="643.3" r="4.9"/><circle cx="357.1" cy="642.4" r="4.9"/><circle cx="360.5" cy="632.4" r="4.9"/><circle cx="363.9" cy="641.4" r="4.9"/><circle cx="367.3" cy="639.5" r="4.9"/><circle cx="370.7" cy="638.9" r="4.9"/><circle cx="374.1" cy="633.9" r="4.9"/><circle cx="377.5" cy="635.2" r="4.9"/><circle cx="380.9" cy="634.1" r="4.9"/><circle cx="384.3" cy="637.0" r="4.9"/><circle cx="387.7" cy="632.5" r="4.9"/><circle cx="391.1" cy="629.5" r="4.9"/><circle cx="394.5" cy="632.6" r="4.9"/><circle cx="397.9" cy="623.8" r="4.9"/><circle cx="401.3" cy="622.4" r="4.9"/><circle cx="404.7" cy="615.9" r="4.9"/><circle cx="408.1" cy="625.5" r="4.9"/><circle cx="411.5" cy="622.2" r="4.9"/><circle cx="414.9" cy="621.1" r="4.9"/><circle cx="418.3" cy="619.7" r="4.9"/><circle cx="421.7" cy="617.9" r="4.9"/><circle cx="425.1" cy="618.7" r="4.9"/><circle cx="428.5" cy="618.1" r="4.9"/><circle cx="431.9" cy="619.8" r="4.9"/><circle cx="435.3" cy="622.6" r="4.9"/><circle cx="438.7" cy="629.8" r="4.9"/><circle cx="442.1" cy="629.5" r="4.9"/><circle cx="445.5" cy="630.5" r="4.9"/><circle cx="448.9" cy="632.0" r="4.9"/><circle cx="452.3" cy="635.3" r="4.9"/><circle cx="455.7" cy="646.1" r="4.9"/><circle cx="459.1" cy="646.0" r="4.9"/><circle cx="462.5" cy="648.0" r="4.9"/><circle cx="465.9" cy="650.0" r="4.9"/><circle cx="469.3" cy="650.6" r="4.9"/><circle cx="472.7" cy="657.0" r="4.9"/><circle cx="476.1" cy="662.9" r="4.9"/><circle cx="479.5" cy="661.2" r="4.9"/><circle cx="482.9" cy="664.0" r="4.9"/><circle cx="486.3" cy="666.1" r="4.9"/><circle cx="489.7" cy="669.0" r="4.9"/><circle cx="493.1" cy="664.9" r="4.9"/><circle cx="496.5" cy="670.7" r="4.9"/><circle cx="499.9" cy="669.8" r="4.9"/><circle cx="503.3" cy="676.6" r="4.9"/><circle cx="506.7" cy="671.9" r="4.9"/><circle cx="510.1" cy="677.0" r="4.9"/><circle cx="513.5" cy="680.7" r="4.9"/><circle cx="516.9" cy="675.1" r="4.9"/><circle cx="520.3" cy="674.6" r="4.9"/><circle cx="523.7" cy="677.5" r="4.9"/><circle cx="527.1" cy="677.1" r="4.9"/><circle cx="530.5" cy="674.0" r="4.9"/><circle cx="533.9" cy="679.0" r="4.9"/><circle cx="537.3" cy="684.3" r="4.9"/><circle cx="540.7" cy="676.9" r="4.9"/><circle cx="544.1" cy="677.2" r="4.9"/><circle cx="547.5" cy="674.5" r="4.9"/><circle cx="550.9" cy="679.0" r="4.9"/><circle cx="554.3" cy="673.9" r="4.9"/><circle cx="557.7" cy="674.5" r="4.9"/><circle cx="561.1" cy="682.4" r="4.9"/><circle cx="564.5" cy="675.2" r="4.9"/><circle cx="567.9" cy="681.8" r="4.9"/><circle cx="571.3" cy="683.3" r="4.9"/><circle cx="574.7" cy="679.2" r="4.9"/><circle cx="578.1" cy="680.2" r="4.9"/><circle cx="581.5" cy="684.9" r="4.9"/><circle cx="584.9" cy="677.8" r="4.9"/><circle cx="588.3" cy="676.5" r="4.9"/><circle cx="591.7" cy="674.0" r="4.9"/><circle cx="595.1" cy="678.7" r="4.9"/><circle cx="598.5" cy="683.5" r="4.9"/><circle cx="601.9" cy="681.8" r="4.9"/><circle cx="605.3" cy="675.5" r="4.9"/><circle cx="608.7" cy="675.8" r="4.9"/><circle cx="612.1" cy="677.0" r="4.9"/><circle cx="615.5" cy="679.7" r="4.9"/><circle cx="618.9" cy="678.1" r="4.9"/><circle cx="622.3" cy="679.5" r="4.9"/><circle cx="625.7" cy="679.8" r="4.9"/><circle cx="629.1" cy="677.8" r="4.9"/><circle cx="632.5" cy="678.7" r="4.9"/><circle cx="635.9" cy="679.5" r="4.9"/><circle cx="639.3" cy="678.6" r="4.9"/></g>
<path d="M30.7 676.6 L32.1 676.6 L33.4 676.5 L34.8 676.5 L36.1 676.5 L37.5 676.4 L38.9 676.4 L40.2 676.4 L41.6 676.3 L42.9 676.3 L44.3 676.2 L45.6 676.2 L47.0 676.2 L48.4 676.1 L49.7 676.1 L51.1 676.0 L52.4 676.0 L53.8 675.9 L55.2 675.9 L56.5 675.8 L57.9 675.8 L59.2 675.7 L60.6 675.7 L61.9 675.6 L63.3 675.6 L64.7 675.5 L66.0 675.5 L67.4 675.4 L68.7 675.3 L70.1 675.3 L71.5 675.2 L72.8 675.1 L74.2 675.1 L75.5 675.0 L76.9 674.9 L78.2 674.9 L79.6 674.8 L81.0 674.7 L82.3 674.6 L83.7 674.6 L85.0 674.5 L86.4 674.4 L87.8 674.3 L89.1 674.2 L90.5 674.1 L91.8 674.0 L93.2 673.9 L94.5 673.8 L95.9 673.7 L97.3 673.6 L98.6 673.5 L100.0 673.4 L101.3 673.3 L102.7 673.1 L104.1 673.0 L105.4 672.9 L106.8 672.7 L108.1 672.6 L109.5 672.4 L110.9 672.2 L112.2 672.1 L113.6 671.9 L114.9 671.7 L116.3 671.5 L117.6 671.3 L119.0 671.0 L120.4 670.8 L121.7 670.5 L123.1 670.3 L124.4 670.0 L125.8 669.7 L127.2 669.3 L128.5 669.0 L129.9 668.6 L131.2 668.2 L132.6 667.8 L133.9 667.3 L135.3 666.8 L136.7 666.3 L138.0 665.7 L139.4 665.1 L140.7 664.5 L142.1 663.8 L143.5 663.0 L144.8 662.3 L146.2 661.4 L147.5 660.5 L148.9 659.6 L150.2 658.5 L151.6 657.4 L153.0 656.3 L154.3 655.0 L155.7 653.7 L157.0 652.3 L158.4 650.8 L159.8 649.2 L161.1 647.5 L162.5 645.8 L163.8 643.9 L165.2 641.9 L166.5 639.8 L167.9 637.6 L169.3 635.3 L170.6 632.9 L172.0 630.3 L173.3 627.6 L174.7 624.8 L176.1 621.9 L177.4 618.8 L178.8 615.7 L180.1 612.3 L181.5 608.9 L182.9 605.3 L184.2 601.6 L185.6 597.8 L186.9 593.9 L188.3 589.8 L189.6 585.7 L191.0 581.4 L192.4 577.0 L193.7 572.5 L195.1 567.9 L196.4 563.3 L197.8 558.5 L199.2 553.7 L200.5 548.9 L201.9 544.0 L203.2 539.0 L204.6 534.0 L205.9 529.1 L207.3 524.1 L208.7 519.1 L210.0 514.2 L211.4 509.3 L212.7 504.5 L214.1 499.8 L215.5 495.2 L216.8 490.8 L218.2 486.5 L219.5 482.3 L220.9 478.4 L222.2 474.6 L223.6 471.1 L225.0 467.9 L226.3 464.8 L227.7 462.1 L229.0 459.6 L230.4 457.5 L231.8 455.6 L233.1 454.1 L234.5 452.8 L235.8 451.9 L237.2 451.2 L238.5 450.9 L239.9 450.8 L241.3 451.0 L242.6 451.5 L244.0 452.2 L245.3 453.2 L246.7 454.3 L248.1 455.7 L249.4 457.3 L250.8 459.1 L252.1 461.1 L253.5 463.1 L254.9 465.4 L256.2 467.7 L257.6 470.2 L258.9 472.8 L260.3 475.4 L261.6 478.2 L263.0 481.0 L264.4 483.9 L265.7 486.8 L267.1 489.8 L268.4 492.9 L269.8 495.9 L271.2 499.0 L272.5 502.2 L273.9 505.3 L275.2 508.5 L276.6 511.7 L277.9 514.8 L279.3 518.0 L280.7 521.2 L282.0 524.4 L283.4 527.6 L284.7 530.8 L286.1 534.0 L287.5 537.2 L288.8 540.4 L290.2 543.5 L291.5 546.7 L292.9 549.8 L294.2 552.9 L295.6 556.0 L297.0 559.1 L298.3 562.2 L299.7 565.2 L301.0 568.2 L302.4 571.2 L303.8 574.1 L305.1 577.0 L306.5 579.9 L307.8 582.8 L309.2 585.6 L310.5 588.3 L311.9 591.1 L313.3 593.7 L314.6 596.4 L316.0 599.0 L317.3 601.5 L318.7 604.0 L320.1 606.4 L321.4 608.7 L322.8 611.0 L324.1 613.2 L325.5 615.4 L326.8 617.5 L328.2 619.5 L329.6 621.4 L330.9 623.2 L332.3 625.0 L333.6 626.7 L335.0 628.3 L336.4 629.8 L337.7 631.2 L339.1 632.5 L340.4 633.8 L341.8 634.9 L343.2 636.0 L344.5 636.9 L345.9 637.8 L347.2 638.5 L348.6 639.2 L349.9 639.7 L351.3 640.2 L352.7 640.6 L354.0 640.8 L355.4 641.0 L356.7 641.2 L358.1 641.2 L359.5 641.1 L360.8 641.0 L362.2 640.8 L363.5 640.6 L364.9 640.3 L366.2 640.0 L367.6 639.6 L369.0 639.2 L370.3 638.8 L371.7 638.3 L373.0 637.8 L374.4 637.3 L375.8 636.8 L377.1 636.3 L378.5 635.7 L379.8 635.1 L381.2 634.5 L382.5 633.9 L383.9 633.3 L385.3 632.6 L386.6 631.9 L388.0 631.2 L389.3 630.5 L390.7 629.7 L392.1 629.0 L393.4 628.2 L394.8 627.4 L396.1 626.6 L397.5 625.9 L398.8 625.1 L400.2 624.3 L401.6 623.6 L402.9 622.8 L404.3 622.1 L405.6 621.4 L407.0 620.8 L408.4 620.2 L409.7 619.6 L411.1 619.1 L412.4 618.7 L413.8 618.3 L415.2 618.0 L416.5 617.7 L417.9 617.6 L419.2 617.5 L420.6 617.5 L421.9 617.5 L423.3 617.7 L424.7 617.9 L426.0 618.2 L427.4 618.6 L428.7 619.1 L430.1 619.6 L431.5 620.3 L432.8 621.0 L434.2 621.8 L435.5 622.6 L436.9 623.5 L438.2 624.5 L439.6 625.6 L441.0 626.7 L442.3 627.8 L443.7 629.0 L445.0 630.2 L446.4 631.5 L447.8 632.8 L449.1 634.2 L450.5 635.5 L451.8 636.9 L453.2 638.3 L454.5 639.7 L455.9 641.1 L457.3 642.5 L458.6 643.9 L460.0 645.2 L461.3 646.6 L462.7 648.0 L464.1 649.3 L465.4 650.6 L466.8 651.9 L468.1 653.2 L469.5 654.4 L470.8 655.7 L472.2 656.8 L473.6 658.0 L474.9 659.1 L476.3 660.1 L477.6 661.2 L479.0 662.2 L480.4 663.1 L481.7 664.0 L483.1 664.9 L484.4 665.7 L485.8 666.5 L487.2 667.3 L488.5 668.0 L489.9 668.7 L491.2 669.3 L492.6 669.9 L493.9 670.5 L495.3 671.1 L496.7 671.6 L498.0 672.1 L499.4 672.5 L500.7 672.9 L502.1 673.3 L503.5 673.7 L504.8 674.0 L506.2 674.3 L507.5 674.6 L508.9 674.9 L510.2 675.2 L511.6 675.4 L513.0 675.6 L514.3 675.8 L515.7 676.0 L517.0 676.2 L518.4 676.3 L519.8 676.5 L521.1 676.6 L522.5 676.7 L523.8 676.9 L525.2 677.0 L526.5 677.1 L527.9 677.2 L529.3 677.2 L530.6 677.3 L532.0 677.4 L533.3 677.5 L534.7 677.5 L536.1 677.6 L537.4 677.6 L538.8 677.7 L540.1 677.7 L541.5 677.8 L542.8 677.8 L544.2 677.8 L545.6 677.9 L546.9 677.9 L548.3 677.9 L549.6 678.0 L551.0 678.0 L552.4 678.0 L553.7 678.0 L555.1 678.1 L556.4 678.1 L557.8 678.1 L559.2 678.1 L560.5 678.2 L561.9 678.2 L563.2 678.2 L564.6 678.2 L565.9 678.2 L567.3 678.3 L568.7 678.3 L570.0 678.3 L571.4 678.3 L572.7 678.3 L574.1 678.3 L575.5 678.3 L576.8 678.4 L578.2 678.4 L579.5 678.4 L580.9 678.4 L582.2 678.4 L583.6 678.4 L585.0 678.4 L586.3 678.5 L587.7 678.5 L589.0 678.5 L590.4 678.5 L591.8 678.5 L593.1 678.5 L594.5 678.5 L595.8 678.5 L597.2 678.6 L598.5 678.6 L599.9 678.6 L601.3 678.6 L602.6 678.6 L604.0 678.6 L605.3 678.6 L606.7 678.6 L608.1 678.6 L609.4 678.7 L610.8 678.7 L612.1 678.7 L613.5 678.7 L614.8 678.7 L616.2 678.7 L617.6 678.7 L618.9 678.7 L620.3 678.7 L621.6 678.7 L623.0 678.8 L624.4 678.8 L625.7 678.8 L627.1 678.8 L628.4 678.8 L629.8 678.8 L631.2 678.8 L632.5 678.8 L633.9 678.8 L635.2 678.8 L636.6 678.8 L637.9 678.8 L639.3 678.9 L640.7 678.9" fill="none" stroke="#2233e0" stroke-width="3.0" stroke-linejoin="round" stroke-linecap="round"/>
<path d="M30.7 1151.2 L32.1 1151.2 L33.4 1151.1 L34.8 1151.1 L36.1 1151.1 L37.5 1151.1 L38.9 1151.1 L40.2 1151.0 L41.6 1151.0 L42.9 1151.0 L44.3 1151.0 L45.7 1151.0 L47.0 1150.9 L48.4 1150.9 L49.7 1150.9 L51.1 1150.9 L52.5 1150.9 L53.8 1150.8 L55.2 1150.8 L56.5 1150.8 L57.9 1150.8 L59.3 1150.7 L60.6 1150.7 L62.0 1150.7 L63.3 1150.7 L64.7 1150.6 L66.1 1150.6 L67.4 1150.6 L68.8 1150.5 L70.1 1150.5 L71.5 1150.5 L72.9 1150.4 L74.2 1150.4 L75.6 1150.4 L76.9 1150.3 L78.3 1150.3 L79.7 1150.3 L81.0 1150.2 L82.4 1150.2 L83.7 1150.2 L85.1 1150.1 L86.5 1150.1 L87.8 1150.0 L89.2 1150.0 L90.5 1150.0 L91.9 1149.9 L93.3 1149.9 L94.6 1149.8 L96.0 1149.8 L97.3 1149.7 L98.7 1149.7 L100.1 1149.6 L101.4 1149.6 L102.8 1149.5 L104.1 1149.4 L105.5 1149.4 L106.9 1149.3 L108.2 1149.3 L109.6 1149.2 L110.9 1149.1 L112.3 1149.1 L113.7 1149.0 L115.0 1148.9 L116.4 1148.8 L117.7 1148.7 L119.1 1148.6 L120.5 1148.6 L121.8 1148.5 L123.2 1148.4 L124.5 1148.2 L125.9 1148.1 L127.3 1148.0 L128.6 1147.9 L130.0 1147.7 L131.3 1147.6 L132.7 1147.4 L134.1 1147.2 L135.4 1147.1 L136.8 1146.9 L138.1 1146.6 L139.5 1146.4 L140.9 1146.1 L142.2 1145.9 L143.6 1145.5 L144.9 1145.2 L146.3 1144.8 L147.7 1144.4 L149.0 1144.0 L150.4 1143.5 L151.7 1142.9 L153.1 1142.3 L154.5 1141.7 L155.8 1141.0 L157.2 1140.2 L158.5 1139.3 L159.9 1138.4 L161.3 1137.4 L162.6 1136.3 L164.0 1135.0 L165.3 1133.7 L166.7 1132.3 L168.1 1130.7 L169.4 1129.0 L170.8 1127.1 L172.1 1125.1 L173.5 1123.0 L174.9 1120.7 L176.2 1118.2 L177.6 1115.5 L178.9 1112.6 L180.3 1109.6 L181.7 1106.3 L183.0 1102.8 L184.4 1099.1 L185.7 1095.2 L187.1 1091.1 L188.5 1086.7 L189.8 1082.1 L191.2 1077.3 L192.5 1072.3 L193.9 1067.0 L195.3 1061.5 L196.6 1055.8 L198.0 1049.9 L199.3 1043.8 L200.7 1037.6 L202.1 1031.1 L203.4 1024.5 L204.8 1017.8 L206.1 1010.9 L207.5 1004.0 L208.9 996.9 L210.2 989.8 L211.6 982.7 L212.9 975.6 L214.3 968.5 L215.7 961.5 L217.0 954.6 L218.4 947.8 L219.7 941.2 L221.1 934.7 L222.5 928.5 L223.8 922.6 L225.2 917.0 L226.5 911.7 L227.9 906.9 L229.3 902.4 L230.6 898.4 L232.0 894.9 L233.3 891.8 L234.7 889.3 L236.1 887.4 L237.4 886.1 L238.8 885.3 L240.1 885.1 L241.5 885.5 L242.9 886.5 L244.2 888.1 L245.6 890.3 L246.9 893.0 L248.3 896.2 L249.7 899.9 L251.0 904.1 L252.4 908.8 L253.7 913.8 L255.1 919.2 L256.5 925.0 L257.8 931.0 L259.2 937.3 L260.5 943.8 L261.9 950.5 L263.3 957.4 L264.6 964.3 L266.0 971.4 L267.3 978.5 L268.7 985.6 L270.1 992.7 L271.4 999.8 L272.8 1006.8 L274.1 1013.7 L275.5 1020.5 L276.9 1027.2 L278.2 1033.7 L279.6 1040.1 L280.9 1046.3 L282.3 1052.3 L283.7 1058.1 L285.0 1063.7 L286.4 1069.1 L287.7 1074.3 L289.1 1079.3 L290.5 1084.0 L291.8 1088.5 L293.2 1092.7 L294.5 1096.8 L295.9 1100.6 L297.3 1104.2 L298.6 1107.6 L300.0 1110.8 L301.3 1113.8 L302.7 1116.6 L304.1 1119.2 L305.4 1121.6 L306.8 1123.9 L308.1 1126.0 L309.5 1127.9 L310.9 1129.7 L312.2 1131.3 L313.6 1132.9 L314.9 1134.3 L316.3 1135.5 L317.7 1136.7 L319.0 1137.8 L320.4 1138.8 L321.7 1139.7 L323.1 1140.5 L324.5 1141.3 L325.8 1142.0 L327.2 1142.6 L328.5 1143.2 L329.9 1143.7 L331.3 1144.2 L332.6 1144.6 L334.0 1145.0 L335.3 1145.3 L336.7 1145.7 L338.1 1146.0 L339.4 1146.2 L340.8 1146.5 L342.1 1146.7 L343.5 1146.9 L344.9 1147.1 L346.2 1147.3 L347.6 1147.5 L348.9 1147.6 L350.3 1147.8 L351.7 1147.9 L353.0 1148.1 L354.4 1148.2 L355.7 1148.3 L357.1 1148.4 L358.5 1148.5 L359.8 1148.6 L361.2 1148.7 L362.5 1148.8 L363.9 1148.9 L365.3 1148.9 L366.6 1149.0 L368.0 1149.1 L369.3 1149.2 L370.7 1149.2 L372.1 1149.3 L373.4 1149.3 L374.8 1149.4 L376.1 1149.5 L377.5 1149.5 L378.9 1149.6 L380.2 1149.6 L381.6 1149.7 L382.9 1149.7 L384.3 1149.8 L385.7 1149.8 L387.0 1149.9 L388.4 1149.9 L389.7 1150.0 L391.1 1150.0 L392.5 1150.1 L393.8 1150.1 L395.2 1150.1 L396.5 1150.2 L397.9 1150.2 L399.3 1150.3 L400.6 1150.3 L402.0 1150.3 L403.3 1150.4 L404.7 1150.4 L406.1 1150.4 L407.4 1150.5 L408.8 1150.5 L410.1 1150.5 L411.5 1150.5 L412.9 1150.6 L414.2 1150.6 L415.6 1150.6 L416.9 1150.7 L418.3 1150.7 L419.7 1150.7 L421.0 1150.7 L422.4 1150.8 L423.7 1150.8 L425.1 1150.8 L426.5 1150.8 L427.8 1150.9 L429.2 1150.9 L430.5 1150.9 L431.9 1150.9 L433.3 1150.9 L434.6 1151.0 L436.0 1151.0 L437.3 1151.0 L438.7 1151.0 L440.1 1151.0 L441.4 1151.1 L442.8 1151.1 L444.1 1151.1 L445.5 1151.1 L446.9 1151.1 L448.2 1151.2 L449.6 1151.2 L450.9 1151.2 L452.3 1151.2 L453.7 1151.2 L455.0 1151.2 L456.4 1151.3 L457.7 1151.3 L459.1 1151.3 L460.5 1151.3 L461.8 1151.3 L463.2 1151.3 L464.5 1151.3 L465.9 1151.4 L467.3 1151.4 L468.6 1151.4 L470.0 1151.4 L471.3 1151.4 L472.7 1151.4 L474.1 1151.4 L475.4 1151.4 L476.8 1151.5 L478.1 1151.5 L479.5 1151.5 L480.9 1151.5 L482.2 1151.5 L483.6 1151.5 L484.9 1151.5 L486.3 1151.5 L487.7 1151.5 L489.0 1151.6 L490.4 1151.6 L491.7 1151.6 L493.1 1151.6 L494.5 1151.6 L495.8 1151.6 L497.2 1151.6 L498.5 1151.6 L499.9 1151.6 L501.3 1151.6 L502.6 1151.6 L504.0 1151.7 L505.3 1151.7 L506.7 1151.7 L508.1 1151.7 L509.4 1151.7 L510.8 1151.7 L512.1 1151.7 L513.5 1151.7 L514.9 1151.7 L516.2 1151.7 L517.6 1151.7 L518.9 1151.7 L520.3 1151.7 L521.7 1151.8 L523.0 1151.8 L524.4 1151.8 L525.7 1151.8 L527.1 1151.8 L528.5 1151.8 L529.8 1151.8 L531.2 1151.8 L532.5 1151.8 L533.9 1151.8 L535.3 1151.8 L536.6 1151.8 L538.0 1151.8 L539.3 1151.8 L540.7 1151.8 L542.1 1151.9 L543.4 1151.9 L544.8 1151.9 L546.1 1151.9 L547.5 1151.9 L548.9 1151.9 L550.2 1151.9 L551.6 1151.9 L552.9 1151.9 L554.3 1151.9 L555.7 1151.9 L557.0 1151.9 L558.4 1151.9 L559.7 1151.9 L561.1 1151.9 L562.5 1151.9 L563.8 1151.9 L565.2 1151.9 L566.5 1151.9 L567.9 1151.9 L569.3 1152.0 L570.6 1152.0 L572.0 1152.0 L573.3 1152.0 L574.7 1152.0 L576.1 1152.0 L577.4 1152.0 L578.8 1152.0 L580.1 1152.0 L581.5 1152.0 L582.9 1152.0 L584.2 1152.0 L585.6 1152.0 L586.9 1152.0 L588.3 1152.0 L589.7 1152.0 L591.0 1152.0 L592.4 1152.0 L593.7 1152.0 L595.1 1152.0 L596.5 1152.0 L597.8 1152.0 L599.2 1152.0 L600.5 1152.0 L601.9 1152.0 L603.3 1152.1 L604.6 1152.1 L606.0 1152.1 L607.3 1152.1 L608.7 1152.1 L610.1 1152.1 L611.4 1152.1 L612.8 1152.1 L614.1 1152.1 L615.5 1152.1 L616.9 1152.1 L616.9 1152.5 L30.7 1152.5 Z" fill="url(#g1b)" stroke="#0c0ce0" stroke-width="4.2" stroke-linejoin="round"/>
<path d="M30.7 1152.0 L32.1 1152.0 L33.4 1152.0 L34.8 1152.0 L36.1 1152.0 L37.5 1152.0 L38.9 1152.0 L40.2 1152.0 L41.6 1152.0 L42.9 1152.0 L44.3 1152.0 L45.7 1152.0 L47.0 1152.0 L48.4 1152.0 L49.7 1151.9 L51.1 1151.9 L52.5 1151.9 L53.8 1151.9 L55.2 1151.9 L56.5 1151.9 L57.9 1151.9 L59.3 1151.9 L60.6 1151.9 L62.0 1151.9 L63.3 1151.9 L64.7 1151.9 L66.1 1151.9 L67.4 1151.9 L68.8 1151.8 L70.1 1151.8 L71.5 1151.8 L72.9 1151.8 L74.2 1151.8 L75.6 1151.8 L76.9 1151.8 L78.3 1151.8 L79.7 1151.8 L81.0 1151.8 L82.4 1151.8 L83.7 1151.8 L85.1 1151.7 L86.5 1151.7 L87.8 1151.7 L89.2 1151.7 L90.5 1151.7 L91.9 1151.7 L93.3 1151.7 L94.6 1151.7 L96.0 1151.7 L97.3 1151.6 L98.7 1151.6 L100.1 1151.6 L101.4 1151.6 L102.8 1151.6 L104.1 1151.6 L105.5 1151.6 L106.9 1151.6 L108.2 1151.5 L109.6 1151.5 L110.9 1151.5 L112.3 1151.5 L113.7 1151.5 L115.0 1151.5 L116.4 1151.5 L117.7 1151.4 L119.1 1151.4 L120.5 1151.4 L121.8 1151.4 L123.2 1151.4 L124.5 1151.4 L125.9 1151.3 L127.3 1151.3 L128.6 1151.3 L130.0 1151.3 L131.3 1151.3 L132.7 1151.2 L134.1 1151.2 L135.4 1151.2 L136.8 1151.2 L138.1 1151.2 L139.5 1151.1 L140.9 1151.1 L142.2 1151.1 L143.6 1151.0 L144.9 1151.0 L146.3 1151.0 L147.7 1151.0 L149.0 1150.9 L150.4 1150.9 L151.7 1150.9 L153.1 1150.8 L154.5 1150.8 L155.8 1150.7 L157.2 1150.7 L158.5 1150.7 L159.9 1150.6 L161.3 1150.6 L162.6 1150.5 L164.0 1150.4 L165.3 1150.4 L166.7 1150.3 L168.1 1150.2 L169.4 1150.2 L170.8 1150.1 L172.1 1150.0 L173.5 1149.9 L174.9 1149.8 L176.2 1149.7 L177.6 1149.6 L178.9 1149.4 L180.3 1149.3 L181.7 1149.1 L183.0 1149.0 L184.4 1148.8 L185.7 1148.6 L187.1 1148.4 L188.5 1148.2 L189.8 1147.9 L191.2 1147.7 L192.5 1147.4 L193.9 1147.1 L195.3 1146.7 L196.6 1146.4 L198.0 1146.0 L199.3 1145.6 L200.7 1145.1 L202.1 1144.6 L203.4 1144.1 L204.8 1143.5 L206.1 1142.9 L207.5 1142.3 L208.9 1141.6 L210.2 1140.9 L211.6 1140.1 L212.9 1139.2 L214.3 1138.4 L215.7 1137.4 L217.0 1136.4 L218.4 1135.3 L219.7 1134.2 L221.1 1133.0 L222.5 1131.8 L223.8 1130.5 L225.2 1129.1 L226.5 1127.6 L227.9 1126.1 L229.3 1124.5 L230.6 1122.9 L232.0 1121.2 L233.3 1119.4 L234.7 1117.5 L236.1 1115.6 L237.4 1113.6 L238.8 1111.6 L240.1 1109.5 L241.5 1107.3 L242.9 1105.1 L244.2 1102.8 L245.6 1100.5 L246.9 1098.1 L248.3 1095.7 L249.7 1093.3 L251.0 1090.9 L252.4 1088.4 L253.7 1085.9 L255.1 1083.4 L256.5 1080.9 L257.8 1078.4 L259.2 1075.9 L260.5 1073.4 L261.9 1071.0 L263.3 1068.6 L264.6 1066.3 L266.0 1064.0 L267.3 1061.8 L268.7 1059.6 L270.1 1057.6 L271.4 1055.6 L272.8 1053.8 L274.1 1052.0 L275.5 1050.4 L276.9 1048.9 L278.2 1047.6 L279.6 1046.4 L280.9 1045.3 L282.3 1044.5 L283.7 1043.7 L285.0 1043.2 L286.4 1042.8 L287.7 1042.6 L289.1 1042.6 L290.5 1042.8 L291.8 1043.1 L293.2 1043.6 L294.5 1044.3 L295.9 1045.2 L297.3 1046.2 L298.6 1047.3 L300.0 1048.7 L301.3 1050.1 L302.7 1051.7 L304.1 1053.4 L305.4 1055.3 L306.8 1057.2 L308.1 1059.2 L309.5 1061.4 L310.9 1063.6 L312.2 1065.8 L313.6 1068.2 L314.9 1070.5 L316.3 1073.0 L317.7 1075.4 L319.0 1077.9 L320.4 1080.4 L321.7 1082.9 L323.1 1085.4 L324.5 1087.9 L325.8 1090.4 L327.2 1092.8 L328.5 1095.3 L329.9 1097.7 L331.3 1100.0 L332.6 1102.4 L334.0 1104.6 L335.3 1106.9 L336.7 1109.0 L338.1 1111.2 L339.4 1113.2 L340.8 1115.2 L342.1 1117.2 L343.5 1119.0 L344.9 1120.8 L346.2 1122.6 L347.6 1124.2 L348.9 1125.8 L350.3 1127.3 L351.7 1128.8 L353.0 1130.2 L354.4 1131.5 L355.7 1132.8 L357.1 1134.0 L358.5 1135.1 L359.8 1136.2 L361.2 1137.2 L362.5 1138.2 L363.9 1139.1 L365.3 1139.9 L366.6 1140.7 L368.0 1141.5 L369.3 1142.2 L370.7 1142.8 L372.1 1143.4 L373.4 1144.0 L374.8 1144.5 L376.1 1145.0 L377.5 1145.5 L378.9 1145.9 L380.2 1146.3 L381.6 1146.7 L382.9 1147.0 L384.3 1147.3 L385.7 1147.6 L387.0 1147.9 L388.4 1148.1 L389.7 1148.4 L391.1 1148.6 L392.5 1148.8 L393.8 1149.0 L395.2 1149.1 L396.5 1149.3 L397.9 1149.4 L399.3 1149.5 L400.6 1149.7 L402.0 1149.8 L403.3 1149.9 L404.7 1150.0 L406.1 1150.1 L407.4 1150.2 L408.8 1150.2 L410.1 1150.3 L411.5 1150.4 L412.9 1150.4 L414.2 1150.5 L415.6 1150.5 L416.9 1150.6 L418.3 1150.6 L419.7 1150.7 L421.0 1150.7 L422.4 1150.8 L423.7 1150.8 L425.1 1150.9 L426.5 1150.9 L427.8 1150.9 L429.2 1151.0 L430.5 1151.0 L431.9 1151.0 L433.3 1151.0 L434.6 1151.1 L436.0 1151.1 L437.3 1151.1 L438.7 1151.1 L440.1 1151.2 L441.4 1151.2 L442.8 1151.2 L444.1 1151.2 L445.5 1151.3 L446.9 1151.3 L448.2 1151.3 L449.6 1151.3 L450.9 1151.3 L452.3 1151.4 L453.7 1151.4 L455.0 1151.4 L456.4 1151.4 L457.7 1151.4 L459.1 1151.4 L460.5 1151.5 L461.8 1151.5 L463.2 1151.5 L464.5 1151.5 L465.9 1151.5 L467.3 1151.5 L468.6 1151.5 L470.0 1151.6 L471.3 1151.6 L472.7 1151.6 L474.1 1151.6 L475.4 1151.6 L476.8 1151.6 L478.1 1151.6 L479.5 1151.6 L480.9 1151.7 L482.2 1151.7 L483.6 1151.7 L484.9 1151.7 L486.3 1151.7 L487.7 1151.7 L489.0 1151.7 L490.4 1151.7 L491.7 1151.7 L493.1 1151.8 L494.5 1151.8 L495.8 1151.8 L497.2 1151.8 L498.5 1151.8 L499.9 1151.8 L501.3 1151.8 L502.6 1151.8 L504.0 1151.8 L505.3 1151.8 L506.7 1151.8 L508.1 1151.8 L509.4 1151.9 L510.8 1151.9 L512.1 1151.9 L513.5 1151.9 L514.9 1151.9 L516.2 1151.9 L517.6 1151.9 L518.9 1151.9 L520.3 1151.9 L521.7 1151.9 L523.0 1151.9 L524.4 1151.9 L525.7 1151.9 L527.1 1151.9 L528.5 1152.0 L529.8 1152.0 L531.2 1152.0 L532.5 1152.0 L533.9 1152.0 L535.3 1152.0 L536.6 1152.0 L538.0 1152.0 L539.3 1152.0 L540.7 1152.0 L542.1 1152.0 L543.4 1152.0 L544.8 1152.0 L546.1 1152.0 L547.5 1152.0 L548.9 1152.0 L550.2 1152.0 L551.6 1152.0 L552.9 1152.0 L554.3 1152.0 L555.7 1152.1 L557.0 1152.1 L558.4 1152.1 L559.7 1152.1 L561.1 1152.1 L562.5 1152.1 L563.8 1152.1 L565.2 1152.1 L566.5 1152.1 L567.9 1152.1 L569.3 1152.1 L570.6 1152.1 L572.0 1152.1 L573.3 1152.1 L574.7 1152.1 L576.1 1152.1 L577.4 1152.1 L578.8 1152.1 L580.1 1152.1 L581.5 1152.1 L582.9 1152.1 L584.2 1152.1 L585.6 1152.1 L586.9 1152.1 L588.3 1152.1 L589.7 1152.1 L591.0 1152.2 L592.4 1152.2 L593.7 1152.2 L595.1 1152.2 L596.5 1152.2 L597.8 1152.2 L599.2 1152.2 L600.5 1152.2 L601.9 1152.2 L603.3 1152.2 L604.6 1152.2 L606.0 1152.2 L607.3 1152.2 L608.7 1152.2 L610.1 1152.2 L611.4 1152.2 L612.8 1152.2 L614.1 1152.2 L615.5 1152.2 L616.9 1152.2 L616.9 1152.5 L30.7 1152.5 Z" fill="#74e8fc" stroke="#14cff2" stroke-width="3.8" stroke-linejoin="round"/>
<g fill="none" stroke="#e01818" stroke-width="1.7"><circle cx="30.7" cy="1113.4" r="4.9"/><circle cx="34.1" cy="1117.8" r="4.9"/><circle cx="37.5" cy="1113.4" r="4.9"/><circle cx="40.9" cy="1111.5" r="4.9"/><circle cx="44.3" cy="1105.7" r="4.9"/><circle cx="47.7" cy="1112.4" r="4.9"/><circle cx="51.1" cy="1104.5" r="4.9"/><circle cx="54.5" cy="1106.2" r="4.9"/><circle cx="57.9" cy="1113.5" r="4.9"/><circle cx="61.3" cy="1112.8" r="4.9"/><circle cx="64.7" cy="1109.8" r="4.9"/><circle cx="68.1" cy="1104.5" r="4.9"/><circle cx="71.5" cy="1108.8" r="4.9"/><circle cx="74.9" cy="1107.5" r="4.9"/><circle cx="78.3" cy="1111.7" r="4.9"/><circle cx="81.7" cy="1116.8" r="4.9"/><circle cx="85.1" cy="1109.8" r="4.9"/><circle cx="88.5" cy="1106.3" r="4.9"/><circle cx="91.9" cy="1104.8" r="4.9"/><circle cx="95.3" cy="1108.2" r="4.9"/><circle cx="98.7" cy="1107.5" r="4.9"/><circle cx="102.1" cy="1103.9" r="4.9"/><circle cx="105.5" cy="1107.8" r="4.9"/><circle cx="108.9" cy="1103.3" r="4.9"/><circle cx="112.3" cy="1110.3" r="4.9"/><circle cx="115.7" cy="1109.8" r="4.9"/><circle cx="119.1" cy="1109.4" r="4.9"/><circle cx="122.5" cy="1103.7" r="4.9"/><circle cx="125.9" cy="1106.4" r="4.9"/><circle cx="129.3" cy="1103.7" r="4.9"/><circle cx="132.7" cy="1102.2" r="4.9"/><circle cx="136.1" cy="1101.5" r="4.9"/><circle cx="139.5" cy="1097.4" r="4.9"/><circle cx="142.9" cy="1095.9" r="4.9"/><circle cx="146.3" cy="1102.0" r="4.9"/><circle cx="149.7" cy="1097.2" r="4.9"/><circle cx="153.1" cy="1096.7" r="4.9"/><circle cx="156.5" cy="1097.1" r="4.9"/><circle cx="159.9" cy="1085.4" r="4.9"/><circle cx="163.3" cy="1085.3" r="4.9"/><circle cx="166.7" cy="1084.5" r="4.9"/><circle cx="170.1" cy="1080.5" r="4.9"/><circle cx="173.5" cy="1072.3" r="4.9"/><circle cx="176.9" cy="1070.3" r="4.9"/><circle cx="180.3" cy="1059.8" r="4.9"/><circle cx="183.7" cy="1046.0" r="4.9"/><circle cx="187.1" cy="1036.5" r="4.9"/><circle cx="190.5" cy="1030.3" r="4.9"/><circle cx="193.9" cy="1015.9" r="4.9"/><circle cx="197.3" cy="993.4" r="4.9"/><circle cx="200.7" cy="988.0" r="4.9"/><circle cx="204.1" cy="968.3" r="4.9"/><circle cx="207.5" cy="952.5" r="4.9"/><circle cx="210.9" cy="927.8" r="4.9"/><circle cx="214.3" cy="908.8" r="4.9"/><circle cx="217.7" cy="886.8" r="4.9"/><circle cx="221.1" cy="880.2" r="4.9"/><circle cx="224.5" cy="853.7" r="4.9"/><circle cx="227.9" cy="843.7" r="4.9"/><circle cx="231.3" cy="822.9" r="4.9"/><circle cx="234.7" cy="815.0" r="4.9"/><circle cx="238.1" cy="801.6" r="4.9"/><circle cx="241.5" cy="801.9" r="4.9"/><circle cx="244.9" cy="805.7" r="4.9"/><circle cx="248.3" cy="800.7" r="4.9"/><circle cx="251.7" cy="813.2" r="4.9"/><circle cx="255.1" cy="817.7" r="4.9"/><circle cx="258.5" cy="821.6" r="4.9"/><circle cx="261.9" cy="832.8" r="4.9"/><circle cx="265.3" cy="843.2" r="4.9"/><circle cx="268.7" cy="855.2" r="4.9"/><circle cx="272.1" cy="864.4" r="4.9"/><circle cx="275.5" cy="874.4" r="4.9"/><circle cx="278.9" cy="887.3" r="4.9"/><circle cx="282.3" cy="896.1" r="4.9"/><circle cx="285.7" cy="906.6" r="4.9"/><circle cx="289.1" cy="922.2" r="4.9"/><circle cx="292.5" cy="936.9" r="4.9"/><circle cx="295.9" cy="940.7" r="4.9"/><circle cx="299.3" cy="957.5" r="4.9"/><circle cx="302.7" cy="966.9" r="4.9"/><circle cx="306.1" cy="977.2" r="4.9"/><circle cx="309.5" cy="994.3" r="4.9"/><circle cx="312.9" cy="1000.3" r="4.9"/><circle cx="316.3" cy="1017.1" r="4.9"/><circle cx="319.7" cy="1019.1" r="4.9"/><circle cx="323.1" cy="1031.9" r="4.9"/><circle cx="326.5" cy="1038.2" r="4.9"/><circle cx="329.9" cy="1044.2" r="4.9"/><circle cx="333.3" cy="1055.7" r="4.9"/><circle cx="336.7" cy="1059.7" r="4.9"/><circle cx="340.1" cy="1068.1" r="4.9"/><circle cx="343.5" cy="1071.2" r="4.9"/><circle cx="346.9" cy="1072.5" r="4.9"/><circle cx="350.3" cy="1080.0" r="4.9"/><circle cx="353.7" cy="1084.2" r="4.9"/><circle cx="357.1" cy="1090.4" r="4.9"/><circle cx="360.5" cy="1087.1" r="4.9"/><circle cx="363.9" cy="1092.4" r="4.9"/><circle cx="367.3" cy="1089.0" r="4.9"/><circle cx="370.7" cy="1098.7" r="4.9"/><circle cx="374.1" cy="1094.6" r="4.9"/><circle cx="377.5" cy="1093.6" r="4.9"/><circle cx="380.9" cy="1100.5" r="4.9"/><circle cx="384.3" cy="1105.4" r="4.9"/><circle cx="387.7" cy="1097.6" r="4.9"/><circle cx="391.1" cy="1099.8" r="4.9"/><circle cx="394.5" cy="1101.6" r="4.9"/><circle cx="397.9" cy="1100.9" r="4.9"/><circle cx="401.3" cy="1106.5" r="4.9"/><circle cx="404.7" cy="1103.0" r="4.9"/><circle cx="408.1" cy="1103.7" r="4.9"/><circle cx="411.5" cy="1108.4" r="4.9"/><circle cx="414.9" cy="1104.4" r="4.9"/><circle cx="418.3" cy="1108.6" r="4.9"/><circle cx="421.7" cy="1104.3" r="4.9"/><circle cx="425.1" cy="1103.8" r="4.9"/><circle cx="428.5" cy="1102.0" r="4.9"/><circle cx="431.9" cy="1114.4" r="4.9"/><circle cx="435.3" cy="1107.4" r="4.9"/><circle cx="438.7" cy="1109.5" r="4.9"/><circle cx="442.1" cy="1108.8" r="4.9"/><circle cx="445.5" cy="1109.6" r="4.9"/><circle cx="448.9" cy="1109.5" r="4.9"/><circle cx="452.3" cy="1115.8" r="4.9"/><circle cx="455.7" cy="1106.2" r="4.9"/><circle cx="459.1" cy="1104.6" r="4.9"/><circle cx="462.5" cy="1106.6" r="4.9"/><circle cx="465.9" cy="1105.6" r="4.9"/><circle cx="469.3" cy="1112.6" r="4.9"/><circle cx="472.7" cy="1113.0" r="4.9"/><circle cx="476.1" cy="1107.2" r="4.9"/><circle cx="479.5" cy="1105.9" r="4.9"/><circle cx="482.9" cy="1109.5" r="4.9"/><circle cx="486.3" cy="1115.3" r="4.9"/><circle cx="489.7" cy="1101.5" r="4.9"/><circle cx="493.1" cy="1112.7" r="4.9"/><circle cx="496.5" cy="1107.5" r="4.9"/><circle cx="499.9" cy="1114.5" r="4.9"/><circle cx="503.3" cy="1107.6" r="4.9"/><circle cx="506.7" cy="1110.3" r="4.9"/><circle cx="510.1" cy="1106.3" r="4.9"/><circle cx="513.5" cy="1108.2" r="4.9"/><circle cx="516.9" cy="1116.0" r="4.9"/><circle cx="520.3" cy="1114.2" r="4.9"/><circle cx="523.7" cy="1110.3" r="4.9"/><circle cx="527.1" cy="1108.8" r="4.9"/><circle cx="530.5" cy="1105.4" r="4.9"/><circle cx="533.9" cy="1110.4" r="4.9"/><circle cx="537.3" cy="1111.7" r="4.9"/><circle cx="540.7" cy="1111.6" r="4.9"/><circle cx="544.1" cy="1111.6" r="4.9"/><circle cx="547.5" cy="1108.2" r="4.9"/><circle cx="550.9" cy="1111.8" r="4.9"/><circle cx="554.3" cy="1111.9" r="4.9"/><circle cx="557.7" cy="1116.3" r="4.9"/><circle cx="561.1" cy="1118.3" r="4.9"/><circle cx="564.5" cy="1111.7" r="4.9"/><circle cx="567.9" cy="1109.6" r="4.9"/><circle cx="571.3" cy="1112.0" r="4.9"/><circle cx="574.7" cy="1110.2" r="4.9"/><circle cx="578.1" cy="1109.8" r="4.9"/><circle cx="581.5" cy="1112.1" r="4.9"/><circle cx="584.9" cy="1108.9" r="4.9"/><circle cx="588.3" cy="1114.4" r="4.9"/><circle cx="591.7" cy="1112.0" r="4.9"/><circle cx="595.1" cy="1113.2" r="4.9"/><circle cx="598.5" cy="1111.8" r="4.9"/><circle cx="601.9" cy="1110.1" r="4.9"/><circle cx="605.3" cy="1109.4" r="4.9"/><circle cx="608.7" cy="1111.7" r="4.9"/><circle cx="612.1" cy="1110.7" r="4.9"/><circle cx="615.5" cy="1113.3" r="4.9"/></g>
<path d="M30.7 1111.7 L32.1 1111.7 L33.4 1111.6 L34.8 1111.6 L36.1 1111.5 L37.5 1111.5 L38.9 1111.4 L40.2 1111.4 L41.6 1111.3 L42.9 1111.3 L44.3 1111.2 L45.7 1111.2 L47.0 1111.1 L48.4 1111.1 L49.7 1111.0 L51.1 1111.0 L52.5 1110.9 L53.8 1110.9 L55.2 1110.8 L56.5 1110.7 L57.9 1110.7 L59.3 1110.6 L60.6 1110.5 L62.0 1110.5 L63.3 1110.4 L64.7 1110.3 L66.1 1110.3 L67.4 1110.2 L68.8 1110.1 L70.1 1110.1 L71.5 1110.0 L72.9 1109.9 L74.2 1109.8 L75.6 1109.7 L76.9 1109.7 L78.3 1109.6 L79.7 1109.5 L81.0 1109.4 L82.4 1109.3 L83.7 1109.2 L85.1 1109.1 L86.5 1109.0 L87.8 1108.9 L89.2 1108.8 L90.5 1108.7 L91.9 1108.6 L93.3 1108.5 L94.6 1108.4 L96.0 1108.3 L97.3 1108.2 L98.7 1108.1 L100.1 1107.9 L101.4 1107.8 L102.8 1107.7 L104.1 1107.5 L105.5 1107.4 L106.9 1107.3 L108.2 1107.1 L109.6 1107.0 L110.9 1106.8 L112.3 1106.7 L113.7 1106.5 L115.0 1106.3 L116.4 1106.2 L117.7 1106.0 L119.1 1105.8 L120.5 1105.6 L121.8 1105.4 L123.2 1105.2 L124.5 1105.0 L125.9 1104.7 L127.3 1104.5 L128.6 1104.3 L130.0 1104.0 L131.3 1103.7 L132.7 1103.4 L134.1 1103.1 L135.4 1102.8 L136.8 1102.5 L138.1 1102.1 L139.5 1101.7 L140.9 1101.3 L142.2 1100.9 L143.6 1100.4 L144.9 1099.9 L146.3 1099.4 L147.7 1098.8 L149.0 1098.2 L150.4 1097.5 L151.7 1096.8 L153.1 1096.0 L154.5 1095.2 L155.8 1094.3 L157.2 1093.3 L158.5 1092.2 L159.9 1091.1 L161.3 1089.9 L162.6 1088.5 L164.0 1087.1 L165.3 1085.6 L166.7 1083.9 L168.1 1082.1 L169.4 1080.2 L170.8 1078.2 L172.1 1076.0 L173.5 1073.6 L174.9 1071.1 L176.2 1068.3 L177.6 1065.4 L178.9 1062.4 L180.3 1059.1 L181.7 1055.6 L183.0 1051.9 L184.4 1048.0 L185.7 1043.9 L187.1 1039.5 L188.5 1035.0 L189.8 1030.2 L191.2 1025.1 L192.5 1019.8 L193.9 1014.3 L195.3 1008.6 L196.6 1002.7 L198.0 996.5 L199.3 990.1 L200.7 983.6 L202.1 976.8 L203.4 969.8 L204.8 962.7 L206.1 955.4 L207.5 948.0 L208.9 940.5 L210.2 932.9 L211.6 925.2 L212.9 917.5 L214.3 909.7 L215.7 902.0 L217.0 894.3 L218.4 886.7 L219.7 879.2 L221.1 871.8 L222.5 864.6 L223.8 857.7 L225.2 851.0 L226.5 844.6 L227.9 838.5 L229.3 832.8 L230.6 827.5 L232.0 822.7 L233.3 818.4 L234.7 814.5 L236.1 811.2 L237.4 808.3 L238.8 806.1 L240.1 804.3 L241.5 803.2 L242.9 802.5 L244.2 802.4 L245.6 802.7 L246.9 803.5 L248.3 804.8 L249.7 806.5 L251.0 808.5 L252.4 810.9 L253.7 813.6 L255.1 816.6 L256.5 819.8 L257.8 823.2 L259.2 826.8 L260.5 830.6 L261.9 834.5 L263.3 838.5 L264.6 842.6 L266.0 846.8 L267.3 851.0 L268.7 855.3 L270.1 859.6 L271.4 864.0 L272.8 868.4 L274.1 872.8 L275.5 877.2 L276.9 881.6 L278.2 886.0 L279.6 890.5 L280.9 895.0 L282.3 899.5 L283.7 904.0 L285.0 908.6 L286.4 913.1 L287.7 917.7 L289.1 922.4 L290.5 927.0 L291.8 931.7 L293.2 936.4 L294.5 941.1 L295.9 945.8 L297.3 950.5 L298.6 955.1 L300.0 959.8 L301.3 964.5 L302.7 969.1 L304.1 973.7 L305.4 978.2 L306.8 982.7 L308.1 987.1 L309.5 991.5 L310.9 995.7 L312.2 1000.0 L313.6 1004.1 L314.9 1008.2 L316.3 1012.1 L317.7 1016.0 L319.0 1019.8 L320.4 1023.5 L321.7 1027.1 L323.1 1030.6 L324.5 1034.0 L325.8 1037.3 L327.2 1040.5 L328.5 1043.6 L329.9 1046.6 L331.3 1049.6 L332.6 1052.4 L334.0 1055.1 L335.3 1057.7 L336.7 1060.2 L338.1 1062.6 L339.4 1065.0 L340.8 1067.2 L342.1 1069.3 L343.5 1071.4 L344.9 1073.3 L346.2 1075.2 L347.6 1077.0 L348.9 1078.7 L350.3 1080.3 L351.7 1081.8 L353.0 1083.3 L354.4 1084.7 L355.7 1086.0 L357.1 1087.3 L358.5 1088.4 L359.8 1089.6 L361.2 1090.6 L362.5 1091.6 L363.9 1092.6 L365.3 1093.5 L366.6 1094.3 L368.0 1095.1 L369.3 1095.8 L370.7 1096.6 L372.1 1097.2 L373.4 1097.8 L374.8 1098.4 L376.1 1099.0 L377.5 1099.5 L378.9 1100.0 L380.2 1100.5 L381.6 1100.9 L382.9 1101.3 L384.3 1101.7 L385.7 1102.1 L387.0 1102.5 L388.4 1102.8 L389.7 1103.1 L391.1 1103.4 L392.5 1103.7 L393.8 1103.9 L395.2 1104.2 L396.5 1104.4 L397.9 1104.7 L399.3 1104.9 L400.6 1105.1 L402.0 1105.3 L403.3 1105.5 L404.7 1105.7 L406.1 1105.9 L407.4 1106.0 L408.8 1106.2 L410.1 1106.4 L411.5 1106.5 L412.9 1106.7 L414.2 1106.8 L415.6 1106.9 L416.9 1107.1 L418.3 1107.2 L419.7 1107.3 L421.0 1107.4 L422.4 1107.5 L423.7 1107.7 L425.1 1107.8 L426.5 1107.9 L427.8 1108.0 L429.2 1108.1 L430.5 1108.2 L431.9 1108.3 L433.3 1108.4 L434.6 1108.5 L436.0 1108.5 L437.3 1108.6 L438.7 1108.7 L440.1 1108.8 L441.4 1108.9 L442.8 1109.0 L444.1 1109.0 L445.5 1109.1 L446.9 1109.2 L448.2 1109.3 L449.6 1109.3 L450.9 1109.4 L452.3 1109.5 L453.7 1109.5 L455.0 1109.6 L456.4 1109.6 L457.7 1109.7 L459.1 1109.8 L460.5 1109.8 L461.8 1109.9 L463.2 1109.9 L464.5 1110.0 L465.9 1110.0 L467.3 1110.1 L468.6 1110.2 L470.0 1110.2 L471.3 1110.3 L472.7 1110.3 L474.1 1110.3 L475.4 1110.4 L476.8 1110.4 L478.1 1110.5 L479.5 1110.5 L480.9 1110.6 L482.2 1110.6 L483.6 1110.7 L484.9 1110.7 L486.3 1110.7 L487.7 1110.8 L489.0 1110.8 L490.4 1110.8 L491.7 1110.9 L493.1 1110.9 L494.5 1111.0 L495.8 1111.0 L497.2 1111.0 L498.5 1111.1 L499.9 1111.1 L501.3 1111.1 L502.6 1111.2 L504.0 1111.2 L505.3 1111.2 L506.7 1111.2 L508.1 1111.3 L509.4 1111.3 L510.8 1111.3 L512.1 1111.4 L513.5 1111.4 L514.9 1111.4 L516.2 1111.4 L517.6 1111.5 L518.9 1111.5 L520.3 1111.5 L521.7 1111.5 L523.0 1111.6 L524.4 1111.6 L525.7 1111.6 L527.1 1111.6 L528.5 1111.7 L529.8 1111.7 L531.2 1111.7 L532.5 1111.7 L533.9 1111.7 L535.3 1111.8 L536.6 1111.8 L538.0 1111.8 L539.3 1111.8 L540.7 1111.8 L542.1 1111.9 L543.4 1111.9 L544.8 1111.9 L546.1 1111.9 L547.5 1111.9 L548.9 1112.0 L550.2 1112.0 L551.6 1112.0 L552.9 1112.0 L554.3 1112.0 L555.7 1112.0 L557.0 1112.1 L558.4 1112.1 L559.7 1112.1 L561.1 1112.1 L562.5 1112.1 L563.8 1112.1 L565.2 1112.1 L566.5 1112.2 L567.9 1112.2 L569.3 1112.2 L570.6 1112.2 L572.0 1112.2 L573.3 1112.2 L574.7 1112.2 L576.1 1112.3 L577.4 1112.3 L578.8 1112.3 L580.1 1112.3 L581.5 1112.3 L582.9 1112.3 L584.2 1112.3 L585.6 1112.3 L586.9 1112.4 L588.3 1112.4 L589.7 1112.4 L591.0 1112.4 L592.4 1112.4 L593.7 1112.4 L595.1 1112.4 L596.5 1112.4 L597.8 1112.4 L599.2 1112.4 L600.5 1112.5 L601.9 1112.5 L603.3 1112.5 L604.6 1112.5 L606.0 1112.5 L607.3 1112.5 L608.7 1112.5 L610.1 1112.5 L611.4 1112.5 L612.8 1112.5 L614.1 1112.5 L615.5 1112.6 L616.9 1112.6" fill="none" stroke="#2233e0" stroke-width="3.0" stroke-linejoin="round" stroke-linecap="round"/>
<rect x="7.5" y="46" width="661.5" height="1117.5" fill="none" stroke="#222" stroke-width="1.6" stroke-linejoin="round"/>
<g stroke="#222" stroke-width="1.6"><line x1="30.7" y1="46" x2="30.7" y2="63"/><line x1="30.7" y1="1164" x2="30.7" y2="1180"/><line x1="166.7" y1="46" x2="166.7" y2="63"/><line x1="166.7" y1="1164" x2="166.7" y2="1180"/><line x1="302.7" y1="46" x2="302.7" y2="63"/><line x1="302.7" y1="1164" x2="302.7" y2="1180"/><line x1="438.7" y1="46" x2="438.7" y2="63"/><line x1="438.7" y1="1164" x2="438.7" y2="1180"/><line x1="574.7" y1="46" x2="574.7" y2="63"/><line x1="574.7" y1="1164" x2="574.7" y2="1180"/></g>
<g font-size="34.5" text-anchor="middle"><text x="32.2" y="29.6">404</text><text x="32.2" y="1227.4">404</text><text x="168.2" y="29.6">402</text><text x="168.2" y="1227.4">402</text><text x="304.2" y="29.6">400</text><text x="304.2" y="1227.4">400</text><text x="440.2" y="29.6">398</text><text x="440.2" y="1227.4">398</text><text x="576.2" y="29.6">396</text><text x="576.2" y="1227.4">396</text></g>
<text x="352.5" y="1285" font-size="42" text-anchor="middle">Binding energy (eV)</text>
<text x="40.6" y="160.4" font-size="59" font-weight="bold">N 1<tspan dx="-3">s</tspan></text>
<text x="607.8" y="118.8" font-size="64">K</text>
<text x="583.5" y="167.2" font-size="34" text-anchor="middle">atoms per</text>
<text x="584" y="205.6" font-size="34" text-anchor="middle">molecule</text>
<text x="593" y="286.7" font-size="34.5" text-anchor="middle">9.1</text>
<text x="598.5" y="653.2" font-size="34.5" text-anchor="middle">1.4</text>
<text x="597.5" y="1084.6" font-size="34" text-anchor="middle">pristine</text>
<g font-size="43.5">
<text x="337" y="333.3">N3</text>
<text x="391.5" y="361.7">N4</text>
<text x="212" y="1045">N1</text>
<text x="265.6" y="1134.2">N2</text>
</g>
</svg>
</body></html>
